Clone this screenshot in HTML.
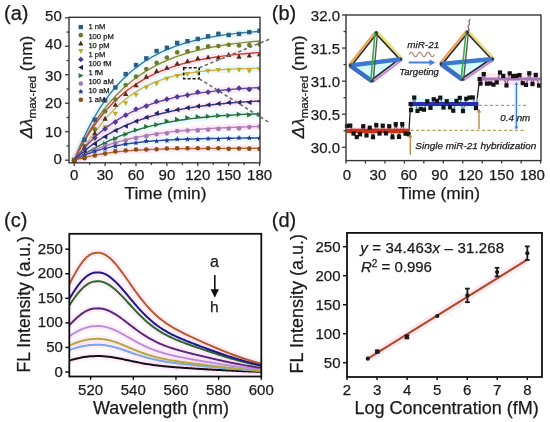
<!DOCTYPE html>
<html><head><meta charset="utf-8"><style>
html,body{margin:0;padding:0;background:#fff;width:550px;height:422px;overflow:hidden}
svg{display:block;filter:blur(0.3px);font-family:"Liberation Sans", sans-serif}
text{stroke:#1a1a1a;stroke-width:0.25px}
</style></head><body>
<svg width="550" height="422" viewBox="0 0 550 422">
<rect width="550" height="422" fill="#ffffff"/>
<defs><clipPath id="clipA"><rect x="69.0" y="17.3" width="191.0" height="145.5"/></clipPath><clipPath id="clipC"><rect x="69.3" y="233.8" width="192.0" height="142.7"/></clipPath></defs>
<text x="4.00" y="19.90" font-size="20" text-anchor="start" fill="#1a1a1a" >(a)</text>
<line x1="65.00" y1="160.20" x2="69.00" y2="160.20" stroke="#3a3a3a" stroke-width="1.3" />
<text x="61.80" y="163.70" font-size="15" text-anchor="end" fill="#1a1a1a" >0</text>
<line x1="66.50" y1="145.96" x2="69.00" y2="145.96" stroke="#3a3a3a" stroke-width="1.3" />
<line x1="65.00" y1="131.72" x2="69.00" y2="131.72" stroke="#3a3a3a" stroke-width="1.3" />
<text x="61.80" y="136.62" font-size="15" text-anchor="end" fill="#1a1a1a" >10</text>
<line x1="66.50" y1="117.48" x2="69.00" y2="117.48" stroke="#3a3a3a" stroke-width="1.3" />
<line x1="65.00" y1="103.24" x2="69.00" y2="103.24" stroke="#3a3a3a" stroke-width="1.3" />
<text x="61.80" y="107.64" font-size="15" text-anchor="end" fill="#1a1a1a" >20</text>
<line x1="66.50" y1="89.00" x2="69.00" y2="89.00" stroke="#3a3a3a" stroke-width="1.3" />
<line x1="65.00" y1="74.76" x2="69.00" y2="74.76" stroke="#3a3a3a" stroke-width="1.3" />
<text x="61.80" y="80.66" font-size="15" text-anchor="end" fill="#1a1a1a" >30</text>
<line x1="66.50" y1="60.52" x2="69.00" y2="60.52" stroke="#3a3a3a" stroke-width="1.3" />
<line x1="65.00" y1="46.28" x2="69.00" y2="46.28" stroke="#3a3a3a" stroke-width="1.3" />
<text x="61.80" y="49.08" font-size="15" text-anchor="end" fill="#1a1a1a" >40</text>
<line x1="66.50" y1="32.04" x2="69.00" y2="32.04" stroke="#3a3a3a" stroke-width="1.3" />
<line x1="65.00" y1="17.80" x2="69.00" y2="17.80" stroke="#3a3a3a" stroke-width="1.3" />
<text x="61.80" y="21.15" font-size="15" text-anchor="end" fill="#1a1a1a" >50</text>
<line x1="74.20" y1="162.80" x2="74.20" y2="166.00" stroke="#3a3a3a" stroke-width="1.3" />
<text x="74.20" y="180.40" font-size="15" text-anchor="middle" fill="#1a1a1a" >0</text>
<line x1="89.65" y1="162.80" x2="89.65" y2="165.00" stroke="#3a3a3a" stroke-width="1.3" />
<line x1="105.10" y1="162.80" x2="105.10" y2="166.00" stroke="#3a3a3a" stroke-width="1.3" />
<text x="105.10" y="180.40" font-size="15" text-anchor="middle" fill="#1a1a1a" >30</text>
<line x1="120.55" y1="162.80" x2="120.55" y2="165.00" stroke="#3a3a3a" stroke-width="1.3" />
<line x1="136.00" y1="162.80" x2="136.00" y2="166.00" stroke="#3a3a3a" stroke-width="1.3" />
<text x="136.00" y="180.40" font-size="15" text-anchor="middle" fill="#1a1a1a" >60</text>
<line x1="151.45" y1="162.80" x2="151.45" y2="165.00" stroke="#3a3a3a" stroke-width="1.3" />
<line x1="166.90" y1="162.80" x2="166.90" y2="166.00" stroke="#3a3a3a" stroke-width="1.3" />
<text x="166.90" y="180.40" font-size="15" text-anchor="middle" fill="#1a1a1a" >90</text>
<line x1="182.35" y1="162.80" x2="182.35" y2="165.00" stroke="#3a3a3a" stroke-width="1.3" />
<line x1="197.80" y1="162.80" x2="197.80" y2="166.00" stroke="#3a3a3a" stroke-width="1.3" />
<text x="197.80" y="180.40" font-size="15" text-anchor="middle" fill="#1a1a1a" >120</text>
<line x1="213.25" y1="162.80" x2="213.25" y2="165.00" stroke="#3a3a3a" stroke-width="1.3" />
<line x1="228.70" y1="162.80" x2="228.70" y2="166.00" stroke="#3a3a3a" stroke-width="1.3" />
<text x="228.70" y="180.40" font-size="15" text-anchor="middle" fill="#1a1a1a" >150</text>
<line x1="244.15" y1="162.80" x2="244.15" y2="165.00" stroke="#3a3a3a" stroke-width="1.3" />
<line x1="259.60" y1="162.80" x2="259.60" y2="166.00" stroke="#3a3a3a" stroke-width="1.3" />
<text x="259.60" y="180.40" font-size="15" text-anchor="middle" fill="#1a1a1a" >180</text>
<text x="165.50" y="199.20" font-size="17.3" text-anchor="middle" fill="#1a1a1a" >Time (min)</text>
<text transform="translate(31.60,138.60) rotate(-90)" font-size="17.3" fill="#1a1a1a"><tspan font-style="italic">Δλ</tspan><tspan font-size="11.6" dy="4.2">max-red</tspan><tspan dy="-4.2"> (nm)</tspan></text>
<g clip-path="url(#clipA)">
<path d="M74.20,160.20 L76.26,155.01 L78.32,150.02 L80.38,145.22 L82.44,140.62 L84.50,136.19 L86.56,131.94 L88.62,127.86 L90.68,123.93 L92.74,120.16 L94.80,116.54 L96.86,113.06 L98.92,109.71 L100.98,106.50 L103.04,103.41 L105.10,100.45 L107.16,97.60 L109.22,94.86 L111.28,92.23 L113.34,89.70 L115.40,87.27 L117.46,84.94 L119.52,82.70 L121.58,80.54 L123.64,78.48 L125.70,76.49 L127.76,74.58 L129.82,72.74 L131.88,70.98 L133.94,69.28 L136.00,67.66 L138.06,66.09 L140.12,64.59 L142.18,63.15 L144.24,61.76 L146.30,60.43 L148.36,59.14 L150.42,57.91 L152.48,56.73 L154.54,55.60 L156.60,54.51 L158.66,53.46 L160.72,52.45 L162.78,51.48 L164.84,50.55 L166.90,49.66 L168.96,48.80 L171.02,47.98 L173.08,47.18 L175.14,46.42 L177.20,45.69 L179.26,44.99 L181.32,44.31 L183.38,43.66 L185.44,43.04 L187.50,42.44 L189.56,41.87 L191.62,41.31 L193.68,40.78 L195.74,40.27 L197.80,39.78 L199.86,39.31 L201.92,38.86 L203.98,38.42 L206.04,38.01 L208.10,37.60 L210.16,37.22 L212.22,36.85 L214.28,36.49 L216.34,36.15 L218.40,35.82 L220.46,35.51 L222.52,35.20 L224.58,34.91 L226.64,34.63 L228.70,34.36 L230.76,34.10 L232.82,33.85 L234.88,33.62 L236.94,33.39 L239.00,33.17 L241.06,32.95 L243.12,32.75 L245.18,32.56 L247.24,32.37 L249.30,32.19 L251.36,32.01 L253.42,31.85 L255.48,31.69 L257.54,31.53 L259.60,31.39" fill="none" stroke="#b8f6ff" stroke-width="7" stroke-linejoin="round" opacity="0.35"/>
<path d="M74.20,160.20 L76.26,155.78 L78.32,151.51 L80.38,147.40 L82.44,143.43 L84.50,139.60 L86.56,135.92 L88.62,132.36 L90.68,128.93 L92.74,125.62 L94.80,122.43 L96.86,119.36 L98.92,116.39 L100.98,113.53 L103.04,110.77 L105.10,108.11 L107.16,105.55 L109.22,103.08 L111.28,100.69 L113.34,98.39 L115.40,96.18 L117.46,94.04 L119.52,91.98 L121.58,89.99 L123.64,88.07 L125.70,86.23 L127.76,84.44 L129.82,82.72 L131.88,81.07 L133.94,79.47 L136.00,77.93 L138.06,76.44 L140.12,75.01 L142.18,73.63 L144.24,72.29 L146.30,71.01 L148.36,69.77 L150.42,68.58 L152.48,67.42 L154.54,66.31 L156.60,65.24 L158.66,64.21 L160.72,63.21 L162.78,62.25 L164.84,61.32 L166.90,60.43 L168.96,59.57 L171.02,58.74 L173.08,57.94 L175.14,57.17 L177.20,56.42 L179.26,55.70 L181.32,55.01 L183.38,54.34 L185.44,53.70 L187.50,53.08 L189.56,52.48 L191.62,51.90 L193.68,51.35 L195.74,50.81 L197.80,50.29 L199.86,49.79 L201.92,49.31 L203.98,48.85 L206.04,48.40 L208.10,47.97 L210.16,47.55 L212.22,47.15 L214.28,46.76 L216.34,46.39 L218.40,46.03 L220.46,45.68 L222.52,45.35 L224.58,45.03 L226.64,44.71 L228.70,44.41 L230.76,44.12 L232.82,43.85 L234.88,43.58 L236.94,43.32 L239.00,43.07 L241.06,42.83 L243.12,42.59 L245.18,42.37 L247.24,42.15 L249.30,41.94 L251.36,41.74 L253.42,41.55 L255.48,41.36 L257.54,41.18 L259.60,41.01" fill="none" stroke="#d8f0c0" stroke-width="7" stroke-linejoin="round" opacity="0.35"/>
<path d="M74.20,160.20 L76.26,156.01 L78.32,151.98 L80.38,148.10 L82.44,144.36 L84.50,140.77 L86.56,137.31 L88.62,133.98 L90.68,130.78 L92.74,127.70 L94.80,124.74 L96.86,121.88 L98.92,119.14 L100.98,116.50 L103.04,113.95 L105.10,111.51 L107.16,109.15 L109.22,106.89 L111.28,104.71 L113.34,102.61 L115.40,100.60 L117.46,98.65 L119.52,96.78 L121.58,94.99 L123.64,93.26 L125.70,91.59 L127.76,89.99 L129.82,88.45 L131.88,86.96 L133.94,85.54 L136.00,84.16 L138.06,82.84 L140.12,81.57 L142.18,80.34 L144.24,79.17 L146.30,78.03 L148.36,76.94 L150.42,75.89 L152.48,74.88 L154.54,73.91 L156.60,72.98 L158.66,72.08 L160.72,71.21 L162.78,70.38 L164.84,69.58 L166.90,68.80 L168.96,68.06 L171.02,67.35 L173.08,66.66 L175.14,66.00 L177.20,65.36 L179.26,64.75 L181.32,64.16 L183.38,63.59 L185.44,63.05 L187.50,62.52 L189.56,62.02 L191.62,61.53 L193.68,61.06 L195.74,60.61 L197.80,60.18 L199.86,59.76 L201.92,59.36 L203.98,58.97 L206.04,58.60 L208.10,58.25 L210.16,57.90 L212.22,57.57 L214.28,57.25 L216.34,56.95 L218.40,56.65 L220.46,56.37 L222.52,56.09 L224.58,55.83 L226.64,55.58 L228.70,55.33 L230.76,55.10 L232.82,54.87 L234.88,54.66 L236.94,54.45 L239.00,54.25 L241.06,54.06 L243.12,53.87 L245.18,53.69 L247.24,53.52 L249.30,53.35 L251.36,53.19 L253.42,53.04 L255.48,52.89 L257.54,52.75 L259.60,52.61" fill="none" stroke="#ffc0e8" stroke-width="7" stroke-linejoin="round" opacity="0.35"/>
<path d="M74.20,160.20 L76.26,158.13 L78.32,155.51 L80.38,152.69 L82.44,149.78 L84.50,146.82 L86.56,143.85 L88.62,140.90 L90.68,137.99 L92.74,135.12 L94.80,132.30 L96.86,129.55 L98.92,126.87 L100.98,124.26 L103.04,121.73 L105.10,119.28 L107.16,116.91 L109.22,114.62 L111.28,112.42 L113.34,110.29 L115.40,108.24 L117.46,106.27 L119.52,104.38 L121.58,102.57 L123.64,100.83 L125.70,99.16 L127.76,97.57 L129.82,96.05 L131.88,94.59 L133.94,93.19 L136.00,91.86 L138.06,90.60 L140.12,89.39 L142.18,88.23 L144.24,87.13 L146.30,86.09 L148.36,85.09 L150.42,84.15 L152.48,83.25 L154.54,82.39 L156.60,81.58 L158.66,80.81 L160.72,80.08 L162.78,79.38 L164.84,78.72 L166.90,78.10 L168.96,77.50 L171.02,76.94 L173.08,76.41 L175.14,75.91 L177.20,75.43 L179.26,74.98 L181.32,74.56 L183.38,74.16 L185.44,73.77 L187.50,73.42 L189.56,73.08 L191.62,72.75 L193.68,72.45 L195.74,72.17 L197.80,71.90 L199.86,71.64 L201.92,71.40 L203.98,71.17 L206.04,70.96 L208.10,70.76 L210.16,70.57 L212.22,70.39 L214.28,70.22 L216.34,70.07 L218.40,69.92 L220.46,69.78 L222.52,69.64 L224.58,69.52 L226.64,69.40 L228.70,69.29 L230.76,69.19 L232.82,69.09 L234.88,69.00 L236.94,68.92 L239.00,68.84 L241.06,68.76 L243.12,68.69 L245.18,68.62 L247.24,68.56 L249.30,68.50 L251.36,68.45 L253.42,68.39 L255.48,68.35 L257.54,68.30 L259.60,68.26" fill="none" stroke="#b8f6ff" stroke-width="7" stroke-linejoin="round" opacity="0.35"/>
<path d="M74.20,160.20 L76.26,157.50 L78.32,154.91 L80.38,152.40 L82.44,149.98 L84.50,147.65 L86.56,145.41 L88.62,143.24 L90.68,141.15 L92.74,139.13 L94.80,137.19 L96.86,135.32 L98.92,133.51 L100.98,131.77 L103.04,130.09 L105.10,128.47 L107.16,126.91 L109.22,125.40 L111.28,123.95 L113.34,122.55 L115.40,121.20 L117.46,119.90 L119.52,118.64 L121.58,117.43 L123.64,116.26 L125.70,115.13 L127.76,114.05 L129.82,113.00 L131.88,111.99 L133.94,111.02 L136.00,110.08 L138.06,109.17 L140.12,108.30 L142.18,107.46 L144.24,106.65 L146.30,105.87 L148.36,105.11 L150.42,104.38 L152.48,103.68 L154.54,103.00 L156.60,102.35 L158.66,101.72 L160.72,101.12 L162.78,100.53 L164.84,99.97 L166.90,99.42 L168.96,98.90 L171.02,98.39 L173.08,97.90 L175.14,97.43 L177.20,96.98 L179.26,96.54 L181.32,96.12 L183.38,95.71 L185.44,95.32 L187.50,94.94 L189.56,94.58 L191.62,94.23 L193.68,93.89 L195.74,93.56 L197.80,93.24 L199.86,92.94 L201.92,92.65 L203.98,92.36 L206.04,92.09 L208.10,91.83 L210.16,91.57 L212.22,91.33 L214.28,91.09 L216.34,90.87 L218.40,90.65 L220.46,90.44 L222.52,90.23 L224.58,90.04 L226.64,89.85 L228.70,89.66 L230.76,89.49 L232.82,89.32 L234.88,89.15 L236.94,89.00 L239.00,88.84 L241.06,88.70 L243.12,88.55 L245.18,88.42 L247.24,88.29 L249.30,88.16 L251.36,88.04 L253.42,87.92 L255.48,87.80 L257.54,87.69 L259.60,87.59" fill="none" stroke="#ffc0e8" stroke-width="7" stroke-linejoin="round" opacity="0.35"/>
<path d="M74.20,160.20 L76.26,158.21 L78.32,156.29 L80.38,154.42 L82.44,152.62 L84.50,150.87 L86.56,149.17 L88.62,147.54 L90.68,145.95 L92.74,144.41 L94.80,142.92 L96.86,141.48 L98.92,140.09 L100.98,138.74 L103.04,137.43 L105.10,136.16 L107.16,134.94 L109.22,133.75 L111.28,132.60 L113.34,131.49 L115.40,130.41 L117.46,129.37 L119.52,128.36 L121.58,127.38 L123.64,126.43 L125.70,125.52 L127.76,124.63 L129.82,123.77 L131.88,122.94 L133.94,122.13 L136.00,121.35 L138.06,120.59 L140.12,119.86 L142.18,119.15 L144.24,118.47 L146.30,117.80 L148.36,117.16 L150.42,116.54 L152.48,115.93 L154.54,115.35 L156.60,114.79 L158.66,114.24 L160.72,113.71 L162.78,113.20 L164.84,112.70 L166.90,112.22 L168.96,111.75 L171.02,111.30 L173.08,110.86 L175.14,110.44 L177.20,110.03 L179.26,109.64 L181.32,109.25 L183.38,108.88 L185.44,108.52 L187.50,108.17 L189.56,107.83 L191.62,107.51 L193.68,107.19 L195.74,106.89 L197.80,106.59 L199.86,106.30 L201.92,106.02 L203.98,105.75 L206.04,105.49 L208.10,105.24 L210.16,105.00 L212.22,104.76 L214.28,104.53 L216.34,104.31 L218.40,104.09 L220.46,103.89 L222.52,103.69 L224.58,103.49 L226.64,103.30 L228.70,103.12 L230.76,102.94 L232.82,102.77 L234.88,102.60 L236.94,102.44 L239.00,102.29 L241.06,102.14 L243.12,101.99 L245.18,101.85 L247.24,101.71 L249.30,101.58 L251.36,101.45 L253.42,101.33 L255.48,101.21 L257.54,101.09 L259.60,100.98" fill="none" stroke="#ffc0e8" stroke-width="7" stroke-linejoin="round" opacity="0.35"/>
<path d="M74.20,160.20 L76.26,159.10 L78.32,157.88 L80.38,156.63 L82.44,155.37 L84.50,154.11 L86.56,152.87 L88.62,151.64 L90.68,150.43 L92.74,149.24 L94.80,148.08 L96.86,146.94 L98.92,145.83 L100.98,144.75 L103.04,143.69 L105.10,142.66 L107.16,141.65 L109.22,140.67 L111.28,139.72 L113.34,138.79 L115.40,137.89 L117.46,137.02 L119.52,136.17 L121.58,135.35 L123.64,134.55 L125.70,133.77 L127.76,133.02 L129.82,132.29 L131.88,131.59 L133.94,130.90 L136.00,130.24 L138.06,129.60 L140.12,128.97 L142.18,128.37 L144.24,127.79 L146.30,127.22 L148.36,126.68 L150.42,126.15 L152.48,125.64 L154.54,125.15 L156.60,124.67 L158.66,124.21 L160.72,123.76 L162.78,123.33 L164.84,122.92 L166.90,122.51 L168.96,122.13 L171.02,121.75 L173.08,121.39 L175.14,121.04 L177.20,120.70 L179.26,120.37 L181.32,120.06 L183.38,119.76 L185.44,119.46 L187.50,119.18 L189.56,118.91 L191.62,118.64 L193.68,118.39 L195.74,118.14 L197.80,117.91 L199.86,117.68 L201.92,117.46 L203.98,117.25 L206.04,117.04 L208.10,116.85 L210.16,116.66 L212.22,116.47 L214.28,116.30 L216.34,116.13 L218.40,115.96 L220.46,115.81 L222.52,115.65 L224.58,115.51 L226.64,115.37 L228.70,115.23 L230.76,115.10 L232.82,114.97 L234.88,114.85 L236.94,114.73 L239.00,114.62 L241.06,114.51 L243.12,114.41 L245.18,114.31 L247.24,114.21 L249.30,114.12 L251.36,114.03 L253.42,113.94 L255.48,113.86 L257.54,113.78 L259.60,113.70" fill="none" stroke="#b8f6ff" stroke-width="7" stroke-linejoin="round" opacity="0.35"/>
<path d="M74.20,160.20 L76.26,159.00 L78.32,157.85 L80.38,156.73 L82.44,155.65 L84.50,154.61 L86.56,153.60 L88.62,152.63 L90.68,151.69 L92.74,150.78 L94.80,149.90 L96.86,149.05 L98.92,148.23 L100.98,147.44 L103.04,146.68 L105.10,145.94 L107.16,145.22 L109.22,144.54 L111.28,143.87 L113.34,143.23 L115.40,142.60 L117.46,142.00 L119.52,141.42 L121.58,140.86 L123.64,140.32 L125.70,139.80 L127.76,139.29 L129.82,138.80 L131.88,138.33 L133.94,137.88 L136.00,137.44 L138.06,137.01 L140.12,136.60 L142.18,136.20 L144.24,135.82 L146.30,135.45 L148.36,135.09 L150.42,134.74 L152.48,134.41 L154.54,134.09 L156.60,133.78 L158.66,133.47 L160.72,133.18 L162.78,132.90 L164.84,132.63 L166.90,132.37 L168.96,132.11 L171.02,131.87 L173.08,131.63 L175.14,131.40 L177.20,131.18 L179.26,130.97 L181.32,130.76 L183.38,130.56 L185.44,130.37 L187.50,130.19 L189.56,130.01 L191.62,129.83 L193.68,129.66 L195.74,129.50 L197.80,129.35 L199.86,129.19 L201.92,129.05 L203.98,128.91 L206.04,128.77 L208.10,128.64 L210.16,128.51 L212.22,128.39 L214.28,128.27 L216.34,128.16 L218.40,128.04 L220.46,127.94 L222.52,127.83 L224.58,127.73 L226.64,127.64 L228.70,127.54 L230.76,127.45 L232.82,127.37 L234.88,127.28 L236.94,127.20 L239.00,127.12 L241.06,127.05 L243.12,126.97 L245.18,126.90 L247.24,126.83 L249.30,126.77 L251.36,126.70 L253.42,126.64 L255.48,126.58 L257.54,126.53 L259.60,126.47" fill="none" stroke="#ffc0e8" stroke-width="7" stroke-linejoin="round" opacity="0.35"/>
<path d="M74.20,160.20 L76.26,159.10 L78.32,158.06 L80.38,157.07 L82.44,156.12 L84.50,155.22 L86.56,154.37 L88.62,153.56 L90.68,152.78 L92.74,152.05 L94.80,151.35 L96.86,150.68 L98.92,150.05 L100.98,149.45 L103.04,148.87 L105.10,148.33 L107.16,147.81 L109.22,147.32 L111.28,146.85 L113.34,146.40 L115.40,145.98 L117.46,145.57 L119.52,145.19 L121.58,144.82 L123.64,144.48 L125.70,144.15 L127.76,143.83 L129.82,143.53 L131.88,143.25 L133.94,142.98 L136.00,142.72 L138.06,142.48 L140.12,142.24 L142.18,142.02 L144.24,141.81 L146.30,141.61 L148.36,141.42 L150.42,141.24 L152.48,141.07 L154.54,140.90 L156.60,140.75 L158.66,140.60 L160.72,140.46 L162.78,140.32 L164.84,140.19 L166.90,140.07 L168.96,139.96 L171.02,139.85 L173.08,139.74 L175.14,139.64 L177.20,139.55 L179.26,139.46 L181.32,139.37 L183.38,139.29 L185.44,139.21 L187.50,139.14 L189.56,139.07 L191.62,139.00 L193.68,138.94 L195.74,138.88 L197.80,138.82 L199.86,138.77 L201.92,138.71 L203.98,138.66 L206.04,138.62 L208.10,138.57 L210.16,138.53 L212.22,138.49 L214.28,138.45 L216.34,138.42 L218.40,138.38 L220.46,138.35 L222.52,138.32 L224.58,138.29 L226.64,138.26 L228.70,138.23 L230.76,138.20 L232.82,138.18 L234.88,138.16 L236.94,138.13 L239.00,138.11 L241.06,138.09 L243.12,138.07 L245.18,138.06 L247.24,138.04 L249.30,138.02 L251.36,138.01 L253.42,137.99 L255.48,137.98 L257.54,137.96 L259.60,137.95" fill="none" stroke="#b8f6ff" stroke-width="7" stroke-linejoin="round" opacity="0.35"/>
<path d="M74.20,160.20 L76.26,159.70 L78.32,159.15 L80.38,158.60 L82.44,158.06 L84.50,157.53 L86.56,157.03 L88.62,156.54 L90.68,156.08 L92.74,155.63 L94.80,155.21 L96.86,154.80 L98.92,154.42 L100.98,154.05 L103.04,153.71 L105.10,153.38 L107.16,153.07 L109.22,152.78 L111.28,152.50 L113.34,152.24 L115.40,151.99 L117.46,151.76 L119.52,151.54 L121.58,151.34 L123.64,151.14 L125.70,150.96 L127.76,150.79 L129.82,150.63 L131.88,150.47 L133.94,150.33 L136.00,150.20 L138.06,150.07 L140.12,149.95 L142.18,149.84 L144.24,149.74 L146.30,149.64 L148.36,149.55 L150.42,149.46 L152.48,149.38 L154.54,149.31 L156.60,149.24 L158.66,149.17 L160.72,149.11 L162.78,149.05 L164.84,149.00 L166.90,148.95 L168.96,148.90 L171.02,148.86 L173.08,148.81 L175.14,148.78 L177.20,148.74 L179.26,148.71 L181.32,148.67 L183.38,148.64 L185.44,148.62 L187.50,148.59 L189.56,148.57 L191.62,148.54 L193.68,148.52 L195.74,148.50 L197.80,148.49 L199.86,148.47 L201.92,148.45 L203.98,148.44 L206.04,148.42 L208.10,148.41 L210.16,148.40 L212.22,148.39 L214.28,148.38 L216.34,148.37 L218.40,148.36 L220.46,148.35 L222.52,148.34 L224.58,148.34 L226.64,148.33 L228.70,148.32 L230.76,148.32 L232.82,148.31 L234.88,148.31 L236.94,148.30 L239.00,148.30 L241.06,148.29 L243.12,148.29 L245.18,148.29 L247.24,148.28 L249.30,148.28 L251.36,148.28 L253.42,148.27 L255.48,148.27 L257.54,148.27 L259.60,148.27" fill="none" stroke="#ffc0e8" stroke-width="7" stroke-linejoin="round" opacity="0.35"/>
<path d="M74.20,160.20 L76.26,155.01 L78.32,150.02 L80.38,145.22 L82.44,140.62 L84.50,136.19 L86.56,131.94 L88.62,127.86 L90.68,123.93 L92.74,120.16 L94.80,116.54 L96.86,113.06 L98.92,109.71 L100.98,106.50 L103.04,103.41 L105.10,100.45 L107.16,97.60 L109.22,94.86 L111.28,92.23 L113.34,89.70 L115.40,87.27 L117.46,84.94 L119.52,82.70 L121.58,80.54 L123.64,78.48 L125.70,76.49 L127.76,74.58 L129.82,72.74 L131.88,70.98 L133.94,69.28 L136.00,67.66 L138.06,66.09 L140.12,64.59 L142.18,63.15 L144.24,61.76 L146.30,60.43 L148.36,59.14 L150.42,57.91 L152.48,56.73 L154.54,55.60 L156.60,54.51 L158.66,53.46 L160.72,52.45 L162.78,51.48 L164.84,50.55 L166.90,49.66 L168.96,48.80 L171.02,47.98 L173.08,47.18 L175.14,46.42 L177.20,45.69 L179.26,44.99 L181.32,44.31 L183.38,43.66 L185.44,43.04 L187.50,42.44 L189.56,41.87 L191.62,41.31 L193.68,40.78 L195.74,40.27 L197.80,39.78 L199.86,39.31 L201.92,38.86 L203.98,38.42 L206.04,38.01 L208.10,37.60 L210.16,37.22 L212.22,36.85 L214.28,36.49 L216.34,36.15 L218.40,35.82 L220.46,35.51 L222.52,35.20 L224.58,34.91 L226.64,34.63 L228.70,34.36 L230.76,34.10 L232.82,33.85 L234.88,33.62 L236.94,33.39 L239.00,33.17 L241.06,32.95 L243.12,32.75 L245.18,32.56 L247.24,32.37 L249.30,32.19 L251.36,32.01 L253.42,31.85 L255.48,31.69 L257.54,31.53 L259.60,31.39" fill="none" stroke="#3f7aa3" stroke-width="1.4" stroke-linejoin="round" />
<path d="M74.20,160.20 L76.26,155.78 L78.32,151.51 L80.38,147.40 L82.44,143.43 L84.50,139.60 L86.56,135.92 L88.62,132.36 L90.68,128.93 L92.74,125.62 L94.80,122.43 L96.86,119.36 L98.92,116.39 L100.98,113.53 L103.04,110.77 L105.10,108.11 L107.16,105.55 L109.22,103.08 L111.28,100.69 L113.34,98.39 L115.40,96.18 L117.46,94.04 L119.52,91.98 L121.58,89.99 L123.64,88.07 L125.70,86.23 L127.76,84.44 L129.82,82.72 L131.88,81.07 L133.94,79.47 L136.00,77.93 L138.06,76.44 L140.12,75.01 L142.18,73.63 L144.24,72.29 L146.30,71.01 L148.36,69.77 L150.42,68.58 L152.48,67.42 L154.54,66.31 L156.60,65.24 L158.66,64.21 L160.72,63.21 L162.78,62.25 L164.84,61.32 L166.90,60.43 L168.96,59.57 L171.02,58.74 L173.08,57.94 L175.14,57.17 L177.20,56.42 L179.26,55.70 L181.32,55.01 L183.38,54.34 L185.44,53.70 L187.50,53.08 L189.56,52.48 L191.62,51.90 L193.68,51.35 L195.74,50.81 L197.80,50.29 L199.86,49.79 L201.92,49.31 L203.98,48.85 L206.04,48.40 L208.10,47.97 L210.16,47.55 L212.22,47.15 L214.28,46.76 L216.34,46.39 L218.40,46.03 L220.46,45.68 L222.52,45.35 L224.58,45.03 L226.64,44.71 L228.70,44.41 L230.76,44.12 L232.82,43.85 L234.88,43.58 L236.94,43.32 L239.00,43.07 L241.06,42.83 L243.12,42.59 L245.18,42.37 L247.24,42.15 L249.30,41.94 L251.36,41.74 L253.42,41.55 L255.48,41.36 L257.54,41.18 L259.60,41.01" fill="none" stroke="#8d8450" stroke-width="1.4" stroke-linejoin="round" />
<path d="M74.20,160.20 L76.26,156.01 L78.32,151.98 L80.38,148.10 L82.44,144.36 L84.50,140.77 L86.56,137.31 L88.62,133.98 L90.68,130.78 L92.74,127.70 L94.80,124.74 L96.86,121.88 L98.92,119.14 L100.98,116.50 L103.04,113.95 L105.10,111.51 L107.16,109.15 L109.22,106.89 L111.28,104.71 L113.34,102.61 L115.40,100.60 L117.46,98.65 L119.52,96.78 L121.58,94.99 L123.64,93.26 L125.70,91.59 L127.76,89.99 L129.82,88.45 L131.88,86.96 L133.94,85.54 L136.00,84.16 L138.06,82.84 L140.12,81.57 L142.18,80.34 L144.24,79.17 L146.30,78.03 L148.36,76.94 L150.42,75.89 L152.48,74.88 L154.54,73.91 L156.60,72.98 L158.66,72.08 L160.72,71.21 L162.78,70.38 L164.84,69.58 L166.90,68.80 L168.96,68.06 L171.02,67.35 L173.08,66.66 L175.14,66.00 L177.20,65.36 L179.26,64.75 L181.32,64.16 L183.38,63.59 L185.44,63.05 L187.50,62.52 L189.56,62.02 L191.62,61.53 L193.68,61.06 L195.74,60.61 L197.80,60.18 L199.86,59.76 L201.92,59.36 L203.98,58.97 L206.04,58.60 L208.10,58.25 L210.16,57.90 L212.22,57.57 L214.28,57.25 L216.34,56.95 L218.40,56.65 L220.46,56.37 L222.52,56.09 L224.58,55.83 L226.64,55.58 L228.70,55.33 L230.76,55.10 L232.82,54.87 L234.88,54.66 L236.94,54.45 L239.00,54.25 L241.06,54.06 L243.12,53.87 L245.18,53.69 L247.24,53.52 L249.30,53.35 L251.36,53.19 L253.42,53.04 L255.48,52.89 L257.54,52.75 L259.60,52.61" fill="none" stroke="#c8402c" stroke-width="1.4" stroke-linejoin="round" />
<path d="M74.20,160.20 L76.26,158.13 L78.32,155.51 L80.38,152.69 L82.44,149.78 L84.50,146.82 L86.56,143.85 L88.62,140.90 L90.68,137.99 L92.74,135.12 L94.80,132.30 L96.86,129.55 L98.92,126.87 L100.98,124.26 L103.04,121.73 L105.10,119.28 L107.16,116.91 L109.22,114.62 L111.28,112.42 L113.34,110.29 L115.40,108.24 L117.46,106.27 L119.52,104.38 L121.58,102.57 L123.64,100.83 L125.70,99.16 L127.76,97.57 L129.82,96.05 L131.88,94.59 L133.94,93.19 L136.00,91.86 L138.06,90.60 L140.12,89.39 L142.18,88.23 L144.24,87.13 L146.30,86.09 L148.36,85.09 L150.42,84.15 L152.48,83.25 L154.54,82.39 L156.60,81.58 L158.66,80.81 L160.72,80.08 L162.78,79.38 L164.84,78.72 L166.90,78.10 L168.96,77.50 L171.02,76.94 L173.08,76.41 L175.14,75.91 L177.20,75.43 L179.26,74.98 L181.32,74.56 L183.38,74.16 L185.44,73.77 L187.50,73.42 L189.56,73.08 L191.62,72.75 L193.68,72.45 L195.74,72.17 L197.80,71.90 L199.86,71.64 L201.92,71.40 L203.98,71.17 L206.04,70.96 L208.10,70.76 L210.16,70.57 L212.22,70.39 L214.28,70.22 L216.34,70.07 L218.40,69.92 L220.46,69.78 L222.52,69.64 L224.58,69.52 L226.64,69.40 L228.70,69.29 L230.76,69.19 L232.82,69.09 L234.88,69.00 L236.94,68.92 L239.00,68.84 L241.06,68.76 L243.12,68.69 L245.18,68.62 L247.24,68.56 L249.30,68.50 L251.36,68.45 L253.42,68.39 L255.48,68.35 L257.54,68.30 L259.60,68.26" fill="none" stroke="#e0ac48" stroke-width="1.4" stroke-linejoin="round" />
<path d="M74.20,160.20 L76.26,157.50 L78.32,154.91 L80.38,152.40 L82.44,149.98 L84.50,147.65 L86.56,145.41 L88.62,143.24 L90.68,141.15 L92.74,139.13 L94.80,137.19 L96.86,135.32 L98.92,133.51 L100.98,131.77 L103.04,130.09 L105.10,128.47 L107.16,126.91 L109.22,125.40 L111.28,123.95 L113.34,122.55 L115.40,121.20 L117.46,119.90 L119.52,118.64 L121.58,117.43 L123.64,116.26 L125.70,115.13 L127.76,114.05 L129.82,113.00 L131.88,111.99 L133.94,111.02 L136.00,110.08 L138.06,109.17 L140.12,108.30 L142.18,107.46 L144.24,106.65 L146.30,105.87 L148.36,105.11 L150.42,104.38 L152.48,103.68 L154.54,103.00 L156.60,102.35 L158.66,101.72 L160.72,101.12 L162.78,100.53 L164.84,99.97 L166.90,99.42 L168.96,98.90 L171.02,98.39 L173.08,97.90 L175.14,97.43 L177.20,96.98 L179.26,96.54 L181.32,96.12 L183.38,95.71 L185.44,95.32 L187.50,94.94 L189.56,94.58 L191.62,94.23 L193.68,93.89 L195.74,93.56 L197.80,93.24 L199.86,92.94 L201.92,92.65 L203.98,92.36 L206.04,92.09 L208.10,91.83 L210.16,91.57 L212.22,91.33 L214.28,91.09 L216.34,90.87 L218.40,90.65 L220.46,90.44 L222.52,90.23 L224.58,90.04 L226.64,89.85 L228.70,89.66 L230.76,89.49 L232.82,89.32 L234.88,89.15 L236.94,89.00 L239.00,88.84 L241.06,88.70 L243.12,88.55 L245.18,88.42 L247.24,88.29 L249.30,88.16 L251.36,88.04 L253.42,87.92 L255.48,87.80 L257.54,87.69 L259.60,87.59" fill="none" stroke="#5a4aa0" stroke-width="1.4" stroke-linejoin="round" />
<path d="M74.20,160.20 L76.26,158.21 L78.32,156.29 L80.38,154.42 L82.44,152.62 L84.50,150.87 L86.56,149.17 L88.62,147.54 L90.68,145.95 L92.74,144.41 L94.80,142.92 L96.86,141.48 L98.92,140.09 L100.98,138.74 L103.04,137.43 L105.10,136.16 L107.16,134.94 L109.22,133.75 L111.28,132.60 L113.34,131.49 L115.40,130.41 L117.46,129.37 L119.52,128.36 L121.58,127.38 L123.64,126.43 L125.70,125.52 L127.76,124.63 L129.82,123.77 L131.88,122.94 L133.94,122.13 L136.00,121.35 L138.06,120.59 L140.12,119.86 L142.18,119.15 L144.24,118.47 L146.30,117.80 L148.36,117.16 L150.42,116.54 L152.48,115.93 L154.54,115.35 L156.60,114.79 L158.66,114.24 L160.72,113.71 L162.78,113.20 L164.84,112.70 L166.90,112.22 L168.96,111.75 L171.02,111.30 L173.08,110.86 L175.14,110.44 L177.20,110.03 L179.26,109.64 L181.32,109.25 L183.38,108.88 L185.44,108.52 L187.50,108.17 L189.56,107.83 L191.62,107.51 L193.68,107.19 L195.74,106.89 L197.80,106.59 L199.86,106.30 L201.92,106.02 L203.98,105.75 L206.04,105.49 L208.10,105.24 L210.16,105.00 L212.22,104.76 L214.28,104.53 L216.34,104.31 L218.40,104.09 L220.46,103.89 L222.52,103.69 L224.58,103.49 L226.64,103.30 L228.70,103.12 L230.76,102.94 L232.82,102.77 L234.88,102.60 L236.94,102.44 L239.00,102.29 L241.06,102.14 L243.12,101.99 L245.18,101.85 L247.24,101.71 L249.30,101.58 L251.36,101.45 L253.42,101.33 L255.48,101.21 L257.54,101.09 L259.60,100.98" fill="none" stroke="#2a3a80" stroke-width="1.4" stroke-linejoin="round" />
<path d="M74.20,160.20 L76.26,159.10 L78.32,157.88 L80.38,156.63 L82.44,155.37 L84.50,154.11 L86.56,152.87 L88.62,151.64 L90.68,150.43 L92.74,149.24 L94.80,148.08 L96.86,146.94 L98.92,145.83 L100.98,144.75 L103.04,143.69 L105.10,142.66 L107.16,141.65 L109.22,140.67 L111.28,139.72 L113.34,138.79 L115.40,137.89 L117.46,137.02 L119.52,136.17 L121.58,135.35 L123.64,134.55 L125.70,133.77 L127.76,133.02 L129.82,132.29 L131.88,131.59 L133.94,130.90 L136.00,130.24 L138.06,129.60 L140.12,128.97 L142.18,128.37 L144.24,127.79 L146.30,127.22 L148.36,126.68 L150.42,126.15 L152.48,125.64 L154.54,125.15 L156.60,124.67 L158.66,124.21 L160.72,123.76 L162.78,123.33 L164.84,122.92 L166.90,122.51 L168.96,122.13 L171.02,121.75 L173.08,121.39 L175.14,121.04 L177.20,120.70 L179.26,120.37 L181.32,120.06 L183.38,119.76 L185.44,119.46 L187.50,119.18 L189.56,118.91 L191.62,118.64 L193.68,118.39 L195.74,118.14 L197.80,117.91 L199.86,117.68 L201.92,117.46 L203.98,117.25 L206.04,117.04 L208.10,116.85 L210.16,116.66 L212.22,116.47 L214.28,116.30 L216.34,116.13 L218.40,115.96 L220.46,115.81 L222.52,115.65 L224.58,115.51 L226.64,115.37 L228.70,115.23 L230.76,115.10 L232.82,114.97 L234.88,114.85 L236.94,114.73 L239.00,114.62 L241.06,114.51 L243.12,114.41 L245.18,114.31 L247.24,114.21 L249.30,114.12 L251.36,114.03 L253.42,113.94 L255.48,113.86 L257.54,113.78 L259.60,113.70" fill="none" stroke="#2d6a3a" stroke-width="1.4" stroke-linejoin="round" />
<path d="M74.20,160.20 L76.26,159.00 L78.32,157.85 L80.38,156.73 L82.44,155.65 L84.50,154.61 L86.56,153.60 L88.62,152.63 L90.68,151.69 L92.74,150.78 L94.80,149.90 L96.86,149.05 L98.92,148.23 L100.98,147.44 L103.04,146.68 L105.10,145.94 L107.16,145.22 L109.22,144.54 L111.28,143.87 L113.34,143.23 L115.40,142.60 L117.46,142.00 L119.52,141.42 L121.58,140.86 L123.64,140.32 L125.70,139.80 L127.76,139.29 L129.82,138.80 L131.88,138.33 L133.94,137.88 L136.00,137.44 L138.06,137.01 L140.12,136.60 L142.18,136.20 L144.24,135.82 L146.30,135.45 L148.36,135.09 L150.42,134.74 L152.48,134.41 L154.54,134.09 L156.60,133.78 L158.66,133.47 L160.72,133.18 L162.78,132.90 L164.84,132.63 L166.90,132.37 L168.96,132.11 L171.02,131.87 L173.08,131.63 L175.14,131.40 L177.20,131.18 L179.26,130.97 L181.32,130.76 L183.38,130.56 L185.44,130.37 L187.50,130.19 L189.56,130.01 L191.62,129.83 L193.68,129.66 L195.74,129.50 L197.80,129.35 L199.86,129.19 L201.92,129.05 L203.98,128.91 L206.04,128.77 L208.10,128.64 L210.16,128.51 L212.22,128.39 L214.28,128.27 L216.34,128.16 L218.40,128.04 L220.46,127.94 L222.52,127.83 L224.58,127.73 L226.64,127.64 L228.70,127.54 L230.76,127.45 L232.82,127.37 L234.88,127.28 L236.94,127.20 L239.00,127.12 L241.06,127.05 L243.12,126.97 L245.18,126.90 L247.24,126.83 L249.30,126.77 L251.36,126.70 L253.42,126.64 L255.48,126.58 L257.54,126.53 L259.60,126.47" fill="none" stroke="#c078b8" stroke-width="1.4" stroke-linejoin="round" />
<path d="M74.20,160.20 L76.26,159.10 L78.32,158.06 L80.38,157.07 L82.44,156.12 L84.50,155.22 L86.56,154.37 L88.62,153.56 L90.68,152.78 L92.74,152.05 L94.80,151.35 L96.86,150.68 L98.92,150.05 L100.98,149.45 L103.04,148.87 L105.10,148.33 L107.16,147.81 L109.22,147.32 L111.28,146.85 L113.34,146.40 L115.40,145.98 L117.46,145.57 L119.52,145.19 L121.58,144.82 L123.64,144.48 L125.70,144.15 L127.76,143.83 L129.82,143.53 L131.88,143.25 L133.94,142.98 L136.00,142.72 L138.06,142.48 L140.12,142.24 L142.18,142.02 L144.24,141.81 L146.30,141.61 L148.36,141.42 L150.42,141.24 L152.48,141.07 L154.54,140.90 L156.60,140.75 L158.66,140.60 L160.72,140.46 L162.78,140.32 L164.84,140.19 L166.90,140.07 L168.96,139.96 L171.02,139.85 L173.08,139.74 L175.14,139.64 L177.20,139.55 L179.26,139.46 L181.32,139.37 L183.38,139.29 L185.44,139.21 L187.50,139.14 L189.56,139.07 L191.62,139.00 L193.68,138.94 L195.74,138.88 L197.80,138.82 L199.86,138.77 L201.92,138.71 L203.98,138.66 L206.04,138.62 L208.10,138.57 L210.16,138.53 L212.22,138.49 L214.28,138.45 L216.34,138.42 L218.40,138.38 L220.46,138.35 L222.52,138.32 L224.58,138.29 L226.64,138.26 L228.70,138.23 L230.76,138.20 L232.82,138.18 L234.88,138.16 L236.94,138.13 L239.00,138.11 L241.06,138.09 L243.12,138.07 L245.18,138.06 L247.24,138.04 L249.30,138.02 L251.36,138.01 L253.42,137.99 L255.48,137.98 L257.54,137.96 L259.60,137.95" fill="none" stroke="#3a48a8" stroke-width="1.4" stroke-linejoin="round" />
<path d="M74.20,160.20 L76.26,159.70 L78.32,159.15 L80.38,158.60 L82.44,158.06 L84.50,157.53 L86.56,157.03 L88.62,156.54 L90.68,156.08 L92.74,155.63 L94.80,155.21 L96.86,154.80 L98.92,154.42 L100.98,154.05 L103.04,153.71 L105.10,153.38 L107.16,153.07 L109.22,152.78 L111.28,152.50 L113.34,152.24 L115.40,151.99 L117.46,151.76 L119.52,151.54 L121.58,151.34 L123.64,151.14 L125.70,150.96 L127.76,150.79 L129.82,150.63 L131.88,150.47 L133.94,150.33 L136.00,150.20 L138.06,150.07 L140.12,149.95 L142.18,149.84 L144.24,149.74 L146.30,149.64 L148.36,149.55 L150.42,149.46 L152.48,149.38 L154.54,149.31 L156.60,149.24 L158.66,149.17 L160.72,149.11 L162.78,149.05 L164.84,149.00 L166.90,148.95 L168.96,148.90 L171.02,148.86 L173.08,148.81 L175.14,148.78 L177.20,148.74 L179.26,148.71 L181.32,148.67 L183.38,148.64 L185.44,148.62 L187.50,148.59 L189.56,148.57 L191.62,148.54 L193.68,148.52 L195.74,148.50 L197.80,148.49 L199.86,148.47 L201.92,148.45 L203.98,148.44 L206.04,148.42 L208.10,148.41 L210.16,148.40 L212.22,148.39 L214.28,148.38 L216.34,148.37 L218.40,148.36 L220.46,148.35 L222.52,148.34 L224.58,148.34 L226.64,148.33 L228.70,148.32 L230.76,148.32 L232.82,148.31 L234.88,148.31 L236.94,148.30 L239.00,148.30 L241.06,148.29 L243.12,148.29 L245.18,148.29 L247.24,148.28 L249.30,148.28 L251.36,148.28 L253.42,148.27 L255.48,148.27 L257.54,148.27 L259.60,148.27" fill="none" stroke="#c06828" stroke-width="1.4" stroke-linejoin="round" />
<rect x="72.00" y="158.00" width="4.40" height="4.40" fill="#2c5d85"/>
<rect x="82.30" y="137.51" width="4.40" height="4.40" fill="#2c5d85"/>
<rect x="92.60" y="117.45" width="4.40" height="4.40" fill="#2c5d85"/>
<rect x="102.90" y="98.23" width="4.40" height="4.40" fill="#2c5d85"/>
<rect x="113.20" y="85.27" width="4.40" height="4.40" fill="#2c5d85"/>
<rect x="123.50" y="71.92" width="4.40" height="4.40" fill="#2c5d85"/>
<rect x="133.80" y="62.84" width="4.40" height="4.40" fill="#2c5d85"/>
<rect x="144.10" y="56.16" width="4.40" height="4.40" fill="#2c5d85"/>
<rect x="154.40" y="48.81" width="4.40" height="4.40" fill="#2c5d85"/>
<rect x="164.70" y="45.54" width="4.40" height="4.40" fill="#2c5d85"/>
<rect x="175.00" y="40.71" width="4.40" height="4.40" fill="#2c5d85"/>
<rect x="185.30" y="38.99" width="4.40" height="4.40" fill="#2c5d85"/>
<rect x="195.60" y="36.76" width="4.40" height="4.40" fill="#2c5d85"/>
<rect x="205.90" y="34.10" width="4.40" height="4.40" fill="#2c5d85"/>
<rect x="216.20" y="31.62" width="4.40" height="4.40" fill="#2c5d85"/>
<rect x="226.50" y="32.77" width="4.40" height="4.40" fill="#2c5d85"/>
<rect x="236.80" y="31.74" width="4.40" height="4.40" fill="#2c5d85"/>
<rect x="247.10" y="29.97" width="4.40" height="4.40" fill="#2c5d85"/>
<rect x="257.40" y="28.59" width="4.40" height="4.40" fill="#2c5d85"/>
<circle cx="74.20" cy="160.20" r="2.31" fill="#6e7a2a"/>
<circle cx="84.50" cy="145.94" r="2.31" fill="#6e7a2a"/>
<circle cx="94.80" cy="129.26" r="2.31" fill="#6e7a2a"/>
<circle cx="105.10" cy="111.28" r="2.31" fill="#6e7a2a"/>
<circle cx="115.40" cy="99.48" r="2.31" fill="#6e7a2a"/>
<circle cx="125.70" cy="85.02" r="2.31" fill="#6e7a2a"/>
<circle cx="136.00" cy="76.64" r="2.31" fill="#6e7a2a"/>
<circle cx="146.30" cy="69.06" r="2.31" fill="#6e7a2a"/>
<circle cx="156.60" cy="62.85" r="2.31" fill="#6e7a2a"/>
<circle cx="166.90" cy="57.46" r="2.31" fill="#6e7a2a"/>
<circle cx="177.20" cy="52.32" r="2.31" fill="#6e7a2a"/>
<circle cx="187.50" cy="51.31" r="2.31" fill="#6e7a2a"/>
<circle cx="197.80" cy="48.10" r="2.31" fill="#6e7a2a"/>
<circle cx="208.10" cy="46.40" r="2.31" fill="#6e7a2a"/>
<circle cx="218.40" cy="46.02" r="2.31" fill="#6e7a2a"/>
<circle cx="228.70" cy="44.71" r="2.31" fill="#6e7a2a"/>
<circle cx="239.00" cy="45.49" r="2.31" fill="#6e7a2a"/>
<circle cx="249.30" cy="45.08" r="2.31" fill="#6e7a2a"/>
<circle cx="259.60" cy="44.37" r="2.31" fill="#6e7a2a"/>
<path d="M74.20,157.56 L76.84,162.40 L71.56,162.40Z" fill="#4e2c18"/>
<path d="M84.50,144.94 L87.14,149.78 L81.86,149.78Z" fill="#4e2c18"/>
<path d="M94.80,130.29 L97.44,135.13 L92.16,135.13Z" fill="#4e2c18"/>
<path d="M105.10,115.84 L107.74,120.68 L102.46,120.68Z" fill="#4e2c18"/>
<path d="M115.40,102.01 L118.04,106.85 L112.76,106.85Z" fill="#4e2c18"/>
<path d="M125.70,91.22 L128.34,96.06 L123.06,96.06Z" fill="#4e2c18"/>
<path d="M136.00,82.46 L138.64,87.30 L133.36,87.30Z" fill="#4e2c18"/>
<path d="M146.30,73.81 L148.94,78.65 L143.66,78.65Z" fill="#4e2c18"/>
<path d="M156.60,68.28 L159.24,73.12 L153.96,73.12Z" fill="#4e2c18"/>
<path d="M166.90,65.01 L169.54,69.85 L164.26,69.85Z" fill="#4e2c18"/>
<path d="M177.20,60.74 L179.84,65.58 L174.56,65.58Z" fill="#4e2c18"/>
<path d="M187.50,58.31 L190.14,63.15 L184.86,63.15Z" fill="#4e2c18"/>
<path d="M197.80,55.50 L200.44,60.34 L195.16,60.34Z" fill="#4e2c18"/>
<path d="M208.10,54.48 L210.74,59.32 L205.46,59.32Z" fill="#4e2c18"/>
<path d="M218.40,54.63 L221.04,59.47 L215.76,59.47Z" fill="#4e2c18"/>
<path d="M228.70,52.08 L231.34,56.92 L226.06,56.92Z" fill="#4e2c18"/>
<path d="M239.00,53.82 L241.64,58.66 L236.36,58.66Z" fill="#4e2c18"/>
<path d="M249.30,52.66 L251.94,57.50 L246.66,57.50Z" fill="#4e2c18"/>
<path d="M259.60,51.51 L262.24,56.35 L256.96,56.35Z" fill="#4e2c18"/>
<path d="M74.20,162.84 L76.84,158.00 L71.56,158.00Z" fill="#c0aa22"/>
<path d="M84.50,155.27 L87.14,150.43 L81.86,150.43Z" fill="#c0aa22"/>
<path d="M94.80,141.99 L97.44,137.15 L92.16,137.15Z" fill="#c0aa22"/>
<path d="M105.10,130.10 L107.74,125.26 L102.46,125.26Z" fill="#c0aa22"/>
<path d="M115.40,116.61 L118.04,111.77 L112.76,111.77Z" fill="#c0aa22"/>
<path d="M125.70,105.99 L128.34,101.15 L123.06,101.15Z" fill="#c0aa22"/>
<path d="M136.00,97.86 L138.64,93.02 L133.36,93.02Z" fill="#c0aa22"/>
<path d="M146.30,90.32 L148.94,85.48 L143.66,85.48Z" fill="#c0aa22"/>
<path d="M156.60,86.38 L159.24,81.54 L153.96,81.54Z" fill="#c0aa22"/>
<path d="M166.90,81.53 L169.54,76.69 L164.26,76.69Z" fill="#c0aa22"/>
<path d="M177.20,78.87 L179.84,74.03 L174.56,74.03Z" fill="#c0aa22"/>
<path d="M187.50,76.82 L190.14,71.98 L184.86,71.98Z" fill="#c0aa22"/>
<path d="M197.80,75.65 L200.44,70.81 L195.16,70.81Z" fill="#c0aa22"/>
<path d="M208.10,73.73 L210.74,68.89 L205.46,68.89Z" fill="#c0aa22"/>
<path d="M218.40,72.80 L221.04,67.96 L215.76,67.96Z" fill="#c0aa22"/>
<path d="M228.70,73.45 L231.34,68.61 L226.06,68.61Z" fill="#c0aa22"/>
<path d="M239.00,72.70 L241.64,67.86 L236.36,67.86Z" fill="#c0aa22"/>
<path d="M249.30,73.93 L251.94,69.09 L246.66,69.09Z" fill="#c0aa22"/>
<path d="M259.60,72.29 L262.24,67.45 L256.96,67.45Z" fill="#c0aa22"/>
<path d="M74.20,157.34 L77.06,160.20 L74.20,163.06 L71.34,160.20Z" fill="#4a3c98"/>
<path d="M84.50,146.17 L87.36,149.03 L84.50,151.89 L81.64,149.03Z" fill="#4a3c98"/>
<path d="M94.80,134.85 L97.66,137.71 L94.80,140.57 L91.94,137.71Z" fill="#4a3c98"/>
<path d="M105.10,125.93 L107.96,128.79 L105.10,131.65 L102.24,128.79Z" fill="#4a3c98"/>
<path d="M115.40,119.17 L118.26,122.03 L115.40,124.89 L112.54,122.03Z" fill="#4a3c98"/>
<path d="M125.70,112.36 L128.56,115.22 L125.70,118.08 L122.84,115.22Z" fill="#4a3c98"/>
<path d="M136.00,106.32 L138.86,109.18 L136.00,112.04 L133.14,109.18Z" fill="#4a3c98"/>
<path d="M146.30,103.19 L149.16,106.05 L146.30,108.91 L143.44,106.05Z" fill="#4a3c98"/>
<path d="M156.60,98.63 L159.46,101.49 L156.60,104.35 L153.74,101.49Z" fill="#4a3c98"/>
<path d="M166.90,96.29 L169.76,99.15 L166.90,102.01 L164.04,99.15Z" fill="#4a3c98"/>
<path d="M177.20,94.00 L180.06,96.86 L177.20,99.72 L174.34,96.86Z" fill="#4a3c98"/>
<path d="M187.50,92.20 L190.36,95.06 L187.50,97.92 L184.64,95.06Z" fill="#4a3c98"/>
<path d="M197.80,89.19 L200.66,92.05 L197.80,94.91 L194.94,92.05Z" fill="#4a3c98"/>
<path d="M208.10,89.29 L210.96,92.15 L208.10,95.01 L205.24,92.15Z" fill="#4a3c98"/>
<path d="M218.40,88.06 L221.26,90.92 L218.40,93.78 L215.54,90.92Z" fill="#4a3c98"/>
<path d="M228.70,86.98 L231.56,89.84 L228.70,92.70 L225.84,89.84Z" fill="#4a3c98"/>
<path d="M239.00,85.37 L241.86,88.23 L239.00,91.09 L236.14,88.23Z" fill="#4a3c98"/>
<path d="M249.30,86.52 L252.16,89.38 L249.30,92.24 L246.44,89.38Z" fill="#4a3c98"/>
<path d="M259.60,85.37 L262.46,88.23 L259.60,91.09 L256.74,88.23Z" fill="#4a3c98"/>
<path d="M71.56,160.20 L76.40,157.56 L76.40,162.84Z" fill="#1c2660"/>
<path d="M81.86,152.46 L86.70,149.82 L86.70,155.10Z" fill="#1c2660"/>
<path d="M92.16,143.89 L97.00,141.25 L97.00,146.53Z" fill="#1c2660"/>
<path d="M102.46,136.79 L107.30,134.15 L107.30,139.43Z" fill="#1c2660"/>
<path d="M112.76,130.38 L117.60,127.74 L117.60,133.02Z" fill="#1c2660"/>
<path d="M123.06,126.03 L127.90,123.39 L127.90,128.67Z" fill="#1c2660"/>
<path d="M133.36,121.15 L138.20,118.51 L138.20,123.79Z" fill="#1c2660"/>
<path d="M143.66,117.37 L148.50,114.73 L148.50,120.01Z" fill="#1c2660"/>
<path d="M153.96,113.15 L158.80,110.51 L158.80,115.79Z" fill="#1c2660"/>
<path d="M164.26,110.33 L169.10,107.69 L169.10,112.97Z" fill="#1c2660"/>
<path d="M174.56,109.63 L179.40,106.99 L179.40,112.27Z" fill="#1c2660"/>
<path d="M184.86,107.76 L189.70,105.12 L189.70,110.40Z" fill="#1c2660"/>
<path d="M195.16,106.18 L200.00,103.54 L200.00,108.82Z" fill="#1c2660"/>
<path d="M205.46,104.97 L210.30,102.33 L210.30,107.61Z" fill="#1c2660"/>
<path d="M215.76,103.52 L220.60,100.88 L220.60,106.16Z" fill="#1c2660"/>
<path d="M226.06,102.53 L230.90,99.89 L230.90,105.17Z" fill="#1c2660"/>
<path d="M236.36,102.50 L241.20,99.86 L241.20,105.14Z" fill="#1c2660"/>
<path d="M246.66,102.47 L251.50,99.83 L251.50,105.11Z" fill="#1c2660"/>
<path d="M256.96,101.29 L261.80,98.65 L261.80,103.93Z" fill="#1c2660"/>
<path d="M76.84,160.20 L72.00,157.56 L72.00,162.84Z" fill="#2a7034"/>
<path d="M87.14,155.92 L82.30,153.28 L82.30,158.56Z" fill="#2a7034"/>
<path d="M97.44,149.86 L92.60,147.22 L92.60,152.50Z" fill="#2a7034"/>
<path d="M107.74,143.52 L102.90,140.88 L102.90,146.16Z" fill="#2a7034"/>
<path d="M118.04,138.67 L113.20,136.03 L113.20,141.31Z" fill="#2a7034"/>
<path d="M128.34,134.28 L123.50,131.64 L123.50,136.92Z" fill="#2a7034"/>
<path d="M138.64,130.08 L133.80,127.44 L133.80,132.72Z" fill="#2a7034"/>
<path d="M148.94,126.57 L144.10,123.93 L144.10,129.21Z" fill="#2a7034"/>
<path d="M159.24,124.76 L154.40,122.12 L154.40,127.40Z" fill="#2a7034"/>
<path d="M169.54,121.06 L164.70,118.42 L164.70,123.70Z" fill="#2a7034"/>
<path d="M179.84,119.38 L175.00,116.74 L175.00,122.02Z" fill="#2a7034"/>
<path d="M190.14,117.73 L185.30,115.09 L185.30,120.37Z" fill="#2a7034"/>
<path d="M200.44,116.67 L195.60,114.03 L195.60,119.31Z" fill="#2a7034"/>
<path d="M210.74,116.40 L205.90,113.76 L205.90,119.04Z" fill="#2a7034"/>
<path d="M221.04,115.66 L216.20,113.02 L216.20,118.30Z" fill="#2a7034"/>
<path d="M231.34,115.58 L226.50,112.94 L226.50,118.22Z" fill="#2a7034"/>
<path d="M241.64,114.28 L236.80,111.64 L236.80,116.92Z" fill="#2a7034"/>
<path d="M251.94,114.89 L247.10,112.25 L247.10,117.53Z" fill="#2a7034"/>
<path d="M262.24,114.64 L257.40,112.00 L257.40,117.28Z" fill="#2a7034"/>
<circle cx="74.20" cy="160.20" r="2.31" fill="#9c80b4"/>
<circle cx="84.50" cy="154.93" r="2.31" fill="#9c80b4"/>
<circle cx="94.80" cy="150.26" r="2.31" fill="#9c80b4"/>
<circle cx="105.10" cy="146.06" r="2.31" fill="#9c80b4"/>
<circle cx="115.40" cy="143.18" r="2.31" fill="#9c80b4"/>
<circle cx="125.70" cy="140.50" r="2.31" fill="#9c80b4"/>
<circle cx="136.00" cy="138.00" r="2.31" fill="#9c80b4"/>
<circle cx="146.30" cy="136.16" r="2.31" fill="#9c80b4"/>
<circle cx="156.60" cy="134.20" r="2.31" fill="#9c80b4"/>
<circle cx="166.90" cy="133.35" r="2.31" fill="#9c80b4"/>
<circle cx="177.20" cy="131.04" r="2.31" fill="#9c80b4"/>
<circle cx="187.50" cy="130.49" r="2.31" fill="#9c80b4"/>
<circle cx="197.80" cy="130.38" r="2.31" fill="#9c80b4"/>
<circle cx="208.10" cy="129.59" r="2.31" fill="#9c80b4"/>
<circle cx="218.40" cy="128.92" r="2.31" fill="#9c80b4"/>
<circle cx="228.70" cy="128.45" r="2.31" fill="#9c80b4"/>
<circle cx="239.00" cy="128.42" r="2.31" fill="#9c80b4"/>
<circle cx="249.30" cy="127.08" r="2.31" fill="#9c80b4"/>
<circle cx="259.60" cy="126.62" r="2.31" fill="#9c80b4"/>
<path d="M74.20,157.23 L74.98,159.13 L77.02,159.28 L75.46,160.61 L75.95,162.60 L74.20,161.52 L72.45,162.60 L72.94,160.61 L71.38,159.28 L73.42,159.13Z" fill="#2536a0"/>
<path d="M84.50,152.32 L85.28,154.23 L87.32,154.38 L85.76,155.70 L86.25,157.70 L84.50,156.61 L82.75,157.70 L83.24,155.70 L81.68,154.38 L83.72,154.23Z" fill="#2536a0"/>
<path d="M94.80,148.33 L95.58,150.23 L97.62,150.38 L96.06,151.71 L96.55,153.70 L94.80,152.62 L93.05,153.70 L93.54,151.71 L91.98,150.38 L94.02,150.23Z" fill="#2536a0"/>
<path d="M105.10,145.72 L105.88,147.63 L107.92,147.78 L106.36,149.10 L106.85,151.10 L105.10,150.01 L103.35,151.10 L103.84,149.10 L102.28,147.78 L104.32,147.63Z" fill="#2536a0"/>
<path d="M115.40,143.32 L116.18,145.23 L118.22,145.38 L116.66,146.70 L117.15,148.70 L115.40,147.61 L113.65,148.70 L114.14,146.70 L112.58,145.38 L114.62,145.23Z" fill="#2536a0"/>
<path d="M125.70,141.21 L126.48,143.11 L128.52,143.26 L126.96,144.58 L127.45,146.58 L125.70,145.50 L123.95,146.58 L124.44,144.58 L122.88,143.26 L124.92,143.11Z" fill="#2536a0"/>
<path d="M136.00,139.91 L136.78,141.81 L138.82,141.96 L137.26,143.29 L137.75,145.28 L136.00,144.20 L134.25,145.28 L134.74,143.29 L133.18,141.96 L135.22,141.81Z" fill="#2536a0"/>
<path d="M146.30,138.16 L147.08,140.06 L149.12,140.21 L147.56,141.54 L148.05,143.53 L146.30,142.45 L144.55,143.53 L145.04,141.54 L143.48,140.21 L145.52,140.06Z" fill="#2536a0"/>
<path d="M156.60,138.17 L157.38,140.07 L159.42,140.22 L157.86,141.54 L158.35,143.54 L156.60,142.46 L154.85,143.54 L155.34,141.54 L153.78,140.22 L155.82,140.07Z" fill="#2536a0"/>
<path d="M166.90,137.72 L167.68,139.62 L169.72,139.77 L168.16,141.10 L168.65,143.09 L166.90,142.01 L165.15,143.09 L165.64,141.10 L164.08,139.77 L166.12,139.62Z" fill="#2536a0"/>
<path d="M177.20,136.12 L177.98,138.03 L180.02,138.18 L178.46,139.50 L178.95,141.50 L177.20,140.41 L175.45,141.50 L175.94,139.50 L174.38,138.18 L176.42,138.03Z" fill="#2536a0"/>
<path d="M187.50,136.29 L188.28,138.19 L190.32,138.34 L188.76,139.67 L189.25,141.66 L187.50,140.58 L185.75,141.66 L186.24,139.67 L184.68,138.34 L186.72,138.19Z" fill="#2536a0"/>
<path d="M197.80,136.49 L198.58,138.39 L200.62,138.54 L199.06,139.87 L199.55,141.86 L197.80,140.78 L196.05,141.86 L196.54,139.87 L194.98,138.54 L197.02,138.39Z" fill="#2536a0"/>
<path d="M208.10,135.80 L208.88,137.71 L210.92,137.86 L209.36,139.18 L209.85,141.18 L208.10,140.09 L206.35,141.18 L206.84,139.18 L205.28,137.86 L207.32,137.71Z" fill="#2536a0"/>
<path d="M218.40,136.28 L219.18,138.18 L221.22,138.34 L219.66,139.66 L220.15,141.66 L218.40,140.57 L216.65,141.66 L217.14,139.66 L215.58,138.34 L217.62,138.18Z" fill="#2536a0"/>
<path d="M228.70,135.56 L229.48,137.46 L231.52,137.61 L229.96,138.93 L230.45,140.93 L228.70,139.85 L226.95,140.93 L227.44,138.93 L225.88,137.61 L227.92,137.46Z" fill="#2536a0"/>
<path d="M239.00,134.92 L239.78,136.82 L241.82,136.97 L240.26,138.30 L240.75,140.29 L239.00,139.21 L237.25,140.29 L237.74,138.30 L236.18,136.97 L238.22,136.82Z" fill="#2536a0"/>
<path d="M249.30,135.00 L250.08,136.90 L252.12,137.05 L250.56,138.37 L251.05,140.37 L249.30,139.29 L247.55,140.37 L248.04,138.37 L246.48,137.05 L248.52,136.90Z" fill="#2536a0"/>
<path d="M259.60,135.15 L260.38,137.05 L262.42,137.20 L260.86,138.53 L261.35,140.52 L259.60,139.44 L257.85,140.52 L258.34,138.53 L256.78,137.20 L258.82,137.05Z" fill="#2536a0"/>
<circle cx="74.20" cy="160.20" r="2.31" fill="#8a4e14"/>
<circle cx="84.50" cy="158.13" r="2.31" fill="#8a4e14"/>
<circle cx="94.80" cy="155.49" r="2.31" fill="#8a4e14"/>
<circle cx="105.10" cy="153.61" r="2.31" fill="#8a4e14"/>
<circle cx="115.40" cy="151.41" r="2.31" fill="#8a4e14"/>
<circle cx="125.70" cy="150.55" r="2.31" fill="#8a4e14"/>
<circle cx="136.00" cy="149.53" r="2.31" fill="#8a4e14"/>
<circle cx="146.30" cy="149.51" r="2.31" fill="#8a4e14"/>
<circle cx="156.60" cy="149.31" r="2.31" fill="#8a4e14"/>
<circle cx="166.90" cy="148.49" r="2.31" fill="#8a4e14"/>
<circle cx="177.20" cy="148.19" r="2.31" fill="#8a4e14"/>
<circle cx="187.50" cy="148.25" r="2.31" fill="#8a4e14"/>
<circle cx="197.80" cy="148.26" r="2.31" fill="#8a4e14"/>
<circle cx="208.10" cy="148.22" r="2.31" fill="#8a4e14"/>
<circle cx="218.40" cy="148.29" r="2.31" fill="#8a4e14"/>
<circle cx="228.70" cy="148.82" r="2.31" fill="#8a4e14"/>
<circle cx="239.00" cy="148.51" r="2.31" fill="#8a4e14"/>
<circle cx="249.30" cy="148.68" r="2.31" fill="#8a4e14"/>
<circle cx="259.60" cy="149.02" r="2.31" fill="#8a4e14"/>
</g>
<rect x="183.7" y="67.8" width="15.5" height="10.9" fill="none" stroke="#1e1008" stroke-width="1.6" stroke-dasharray="3,2"/>
<line x1="199.20" y1="67.80" x2="270.00" y2="39.00" stroke="#707070" stroke-width="1.6" stroke-dasharray="3.5,2.5"/>
<line x1="199.20" y1="78.70" x2="270.30" y2="123.20" stroke="#707070" stroke-width="1.6" stroke-dasharray="3.5,2.5"/>
<rect x="69.00" y="17.30" width="191.00" height="145.50" fill="none" stroke="#363636" stroke-width="1.4"/>
<rect x="78.60" y="24.90" width="4.40" height="4.40" fill="#2c5d85"/>
<circle cx="80.80" cy="35.17" r="2.31" fill="#6e7a2a"/>
<path d="M80.80,40.60 L83.44,45.44 L78.16,45.44Z" fill="#4e2c18"/>
<path d="M80.80,53.95 L83.44,49.11 L78.16,49.11Z" fill="#c0aa22"/>
<path d="M80.80,56.52 L83.66,59.38 L80.80,62.24 L77.94,59.38Z" fill="#4a3c98"/>
<path d="M78.16,67.45 L83.00,64.81 L83.00,70.09Z" fill="#1c2660"/>
<path d="M83.44,75.52 L78.60,72.88 L78.60,78.16Z" fill="#2a7034"/>
<circle cx="80.80" cy="83.59" r="2.31" fill="#9c80b4"/>
<path d="M80.80,88.69 L81.58,90.59 L83.62,90.74 L82.06,92.07 L82.55,94.06 L80.80,92.98 L79.05,94.06 L79.54,92.07 L77.98,90.74 L80.02,90.59Z" fill="#2536a0"/>
<circle cx="80.80" cy="99.73" r="2.31" fill="#8a4e14"/>
<text x="88.40" y="29.40" font-size="7.6" text-anchor="start" fill="#1a1a1a" stroke="#1a1a1a" stroke-width="0.25">1 nM</text>
<text x="88.40" y="38.52" font-size="7.6" text-anchor="start" fill="#1a1a1a" stroke="#1a1a1a" stroke-width="0.25">100 pM</text>
<text x="88.40" y="47.64" font-size="7.6" text-anchor="start" fill="#1a1a1a" stroke="#1a1a1a" stroke-width="0.25">10 pM</text>
<text x="88.40" y="56.76" font-size="7.6" text-anchor="start" fill="#1a1a1a" stroke="#1a1a1a" stroke-width="0.25">1 pM</text>
<text x="88.40" y="65.88" font-size="7.6" text-anchor="start" fill="#1a1a1a" stroke="#1a1a1a" stroke-width="0.25">100 fM</text>
<text x="88.40" y="75.00" font-size="7.6" text-anchor="start" fill="#1a1a1a" stroke="#1a1a1a" stroke-width="0.25">1 fM</text>
<text x="88.40" y="84.12" font-size="7.6" text-anchor="start" fill="#1a1a1a" stroke="#1a1a1a" stroke-width="0.25">100 aM</text>
<text x="88.40" y="93.24" font-size="7.6" text-anchor="start" fill="#1a1a1a" stroke="#1a1a1a" stroke-width="0.25">10 aM</text>
<text x="88.40" y="102.36" font-size="7.6" text-anchor="start" fill="#1a1a1a" stroke="#1a1a1a" stroke-width="0.25">1 aM</text>
<text x="271.80" y="19.90" font-size="20" text-anchor="start" fill="#1a1a1a" >(b)</text>
<line x1="342.00" y1="147.30" x2="346.00" y2="147.30" stroke="#3a3a3a" stroke-width="1.3" />
<text x="340.00" y="153.10" font-size="15" text-anchor="end" fill="#1a1a1a" >30.0</text>
<line x1="343.50" y1="130.76" x2="346.00" y2="130.76" stroke="#3a3a3a" stroke-width="1.3" />
<line x1="342.00" y1="114.23" x2="346.00" y2="114.23" stroke="#3a3a3a" stroke-width="1.3" />
<text x="340.00" y="120.03" font-size="15" text-anchor="end" fill="#1a1a1a" >30.5</text>
<line x1="343.50" y1="97.69" x2="346.00" y2="97.69" stroke="#3a3a3a" stroke-width="1.3" />
<line x1="342.00" y1="81.15" x2="346.00" y2="81.15" stroke="#3a3a3a" stroke-width="1.3" />
<text x="340.00" y="86.95" font-size="15" text-anchor="end" fill="#1a1a1a" >31.0</text>
<line x1="343.50" y1="64.61" x2="346.00" y2="64.61" stroke="#3a3a3a" stroke-width="1.3" />
<line x1="342.00" y1="48.08" x2="346.00" y2="48.08" stroke="#3a3a3a" stroke-width="1.3" />
<text x="340.00" y="53.88" font-size="15" text-anchor="end" fill="#1a1a1a" >31.5</text>
<line x1="343.50" y1="31.54" x2="346.00" y2="31.54" stroke="#3a3a3a" stroke-width="1.3" />
<line x1="342.00" y1="15.00" x2="346.00" y2="15.00" stroke="#3a3a3a" stroke-width="1.3" />
<text x="340.00" y="20.80" font-size="15" text-anchor="end" fill="#1a1a1a" >32.0</text>
<line x1="346.00" y1="160.60" x2="346.00" y2="163.60" stroke="#3a3a3a" stroke-width="1.3" />
<line x1="365.46" y1="160.60" x2="365.46" y2="163.60" stroke="#3a3a3a" stroke-width="1.3" />
<line x1="384.92" y1="160.60" x2="384.92" y2="163.60" stroke="#3a3a3a" stroke-width="1.3" />
<line x1="404.38" y1="160.60" x2="404.38" y2="163.60" stroke="#3a3a3a" stroke-width="1.3" />
<line x1="423.84" y1="160.60" x2="423.84" y2="163.60" stroke="#3a3a3a" stroke-width="1.3" />
<line x1="443.30" y1="160.60" x2="443.30" y2="163.60" stroke="#3a3a3a" stroke-width="1.3" />
<line x1="462.76" y1="160.60" x2="462.76" y2="163.60" stroke="#3a3a3a" stroke-width="1.3" />
<line x1="482.22" y1="160.60" x2="482.22" y2="163.60" stroke="#3a3a3a" stroke-width="1.3" />
<line x1="501.68" y1="160.60" x2="501.68" y2="163.60" stroke="#3a3a3a" stroke-width="1.3" />
<line x1="521.14" y1="160.60" x2="521.14" y2="163.60" stroke="#3a3a3a" stroke-width="1.3" />
<line x1="540.60" y1="160.60" x2="540.60" y2="163.60" stroke="#3a3a3a" stroke-width="1.3" />
<text x="347.00" y="179.60" font-size="15" text-anchor="middle" fill="#1a1a1a" >0</text>
<text x="377.90" y="179.60" font-size="15" text-anchor="middle" fill="#1a1a1a" >30</text>
<text x="408.80" y="179.60" font-size="15" text-anchor="middle" fill="#1a1a1a" >60</text>
<text x="439.70" y="179.60" font-size="15" text-anchor="middle" fill="#1a1a1a" >90</text>
<text x="470.60" y="179.60" font-size="15" text-anchor="middle" fill="#1a1a1a" >120</text>
<text x="501.50" y="179.60" font-size="15" text-anchor="middle" fill="#1a1a1a" >150</text>
<text x="532.40" y="179.60" font-size="15" text-anchor="middle" fill="#1a1a1a" >180</text>
<text x="439.00" y="199.40" font-size="17.3" text-anchor="middle" fill="#1a1a1a" >Time (min)</text>
<text transform="translate(303.60,138.40) rotate(-90)" font-size="17.3" fill="#1a1a1a"><tspan font-style="italic">Δλ</tspan><tspan font-size="11.6" dy="4.2">max-red</tspan><tspan dy="-4.2"> (nm)</tspan></text>
<path d="M347.00,125.87 L350.25,125.60 L353.50,133.55 L356.75,137.06 L360.00,134.32 L363.25,126.21 L366.50,135.42 L369.75,127.66 L373.00,137.20 L376.25,124.98 L379.50,133.54 L382.75,125.66 L386.00,133.39 L389.25,126.20 L392.50,137.25 L395.75,124.16 L399.00,136.89 L402.25,124.09 L405.50,133.69 L408.75,134.24 L410.60,104.00 L411.00,110.13 L414.25,97.56 L417.50,110.95 L420.75,108.87 L424.00,109.70 L427.25,101.33 L430.50,107.87 L433.75,99.24 L437.00,100.86 L440.25,97.68 L443.50,107.48 L446.75,101.22 L450.00,107.33 L453.25,110.71 L456.50,100.87 L459.75,97.88 L463.00,111.12 L466.25,98.77 L469.50,97.57 L472.75,97.45 L476.00,108.11 L479.60,79.00 L480.50,83.60 L483.75,74.03 L487.00,83.72 L490.25,83.38 L493.50,84.66 L496.75,82.43 L500.00,72.47 L503.25,75.96 L506.50,85.44 L509.75,73.35 L513.00,76.08 L516.25,75.88 L519.50,75.05 L522.75,83.16 L526.00,84.88 L529.25,73.24 L532.50,84.06 L535.75,74.88 L539.00,85.58" fill="none" stroke="#202020" stroke-width="1.3" stroke-linejoin="round" />
<line x1="346.50" y1="130.80" x2="409.00" y2="130.80" stroke="#ffb0d0" stroke-width="6.5" opacity="0.6"/>
<line x1="346.50" y1="130.80" x2="409.00" y2="130.80" stroke="#c83418" stroke-width="4.2" />
<line x1="410.00" y1="104.00" x2="478.40" y2="104.00" stroke="#b8f6ff" stroke-width="12" opacity="0.45"/>
<line x1="478.30" y1="79.00" x2="541.00" y2="79.00" stroke="#ffc0e8" stroke-width="12" opacity="0.4"/>
<line x1="410.00" y1="104.00" x2="478.40" y2="104.00" stroke="#2a2ab8" stroke-width="3.8" />
<line x1="478.30" y1="79.00" x2="541.00" y2="79.00" stroke="#a878b8" stroke-width="3.2" />
<rect x="344.90" y="123.77" width="4.2" height="4.2" fill="#141414"/>
<rect x="348.15" y="123.50" width="4.2" height="4.2" fill="#141414"/>
<rect x="351.40" y="131.45" width="4.2" height="4.2" fill="#141414"/>
<rect x="354.65" y="134.96" width="4.2" height="4.2" fill="#141414"/>
<rect x="357.90" y="132.22" width="4.2" height="4.2" fill="#141414"/>
<rect x="361.15" y="124.11" width="4.2" height="4.2" fill="#141414"/>
<rect x="364.40" y="133.32" width="4.2" height="4.2" fill="#141414"/>
<rect x="367.65" y="125.56" width="4.2" height="4.2" fill="#141414"/>
<rect x="370.90" y="135.10" width="4.2" height="4.2" fill="#141414"/>
<rect x="374.15" y="122.88" width="4.2" height="4.2" fill="#141414"/>
<rect x="377.40" y="131.44" width="4.2" height="4.2" fill="#141414"/>
<rect x="380.65" y="123.56" width="4.2" height="4.2" fill="#141414"/>
<rect x="383.90" y="131.29" width="4.2" height="4.2" fill="#141414"/>
<rect x="387.15" y="124.10" width="4.2" height="4.2" fill="#141414"/>
<rect x="390.40" y="135.15" width="4.2" height="4.2" fill="#141414"/>
<rect x="393.65" y="122.06" width="4.2" height="4.2" fill="#141414"/>
<rect x="396.90" y="134.79" width="4.2" height="4.2" fill="#141414"/>
<rect x="400.15" y="121.99" width="4.2" height="4.2" fill="#141414"/>
<rect x="403.40" y="131.59" width="4.2" height="4.2" fill="#141414"/>
<rect x="406.65" y="132.14" width="4.2" height="4.2" fill="#141414"/>
<rect x="408.50" y="101.90" width="4.2" height="4.2" fill="#141414"/>
<rect x="408.90" y="108.03" width="4.2" height="4.2" fill="#141414"/>
<rect x="412.15" y="95.46" width="4.2" height="4.2" fill="#141414"/>
<rect x="415.40" y="108.85" width="4.2" height="4.2" fill="#141414"/>
<rect x="418.65" y="106.77" width="4.2" height="4.2" fill="#141414"/>
<rect x="421.90" y="107.60" width="4.2" height="4.2" fill="#141414"/>
<rect x="425.15" y="99.23" width="4.2" height="4.2" fill="#141414"/>
<rect x="428.40" y="105.77" width="4.2" height="4.2" fill="#141414"/>
<rect x="431.65" y="97.14" width="4.2" height="4.2" fill="#141414"/>
<rect x="434.90" y="98.76" width="4.2" height="4.2" fill="#141414"/>
<rect x="438.15" y="95.58" width="4.2" height="4.2" fill="#141414"/>
<rect x="441.40" y="105.38" width="4.2" height="4.2" fill="#141414"/>
<rect x="444.65" y="99.12" width="4.2" height="4.2" fill="#141414"/>
<rect x="447.90" y="105.23" width="4.2" height="4.2" fill="#141414"/>
<rect x="451.15" y="108.61" width="4.2" height="4.2" fill="#141414"/>
<rect x="454.40" y="98.77" width="4.2" height="4.2" fill="#141414"/>
<rect x="457.65" y="95.78" width="4.2" height="4.2" fill="#141414"/>
<rect x="460.90" y="109.02" width="4.2" height="4.2" fill="#141414"/>
<rect x="464.15" y="96.67" width="4.2" height="4.2" fill="#141414"/>
<rect x="467.40" y="95.47" width="4.2" height="4.2" fill="#141414"/>
<rect x="470.65" y="95.35" width="4.2" height="4.2" fill="#141414"/>
<rect x="473.90" y="106.01" width="4.2" height="4.2" fill="#141414"/>
<rect x="477.50" y="76.90" width="4.2" height="4.2" fill="#141414"/>
<rect x="478.40" y="81.50" width="4.2" height="4.2" fill="#141414"/>
<rect x="481.65" y="71.93" width="4.2" height="4.2" fill="#141414"/>
<rect x="484.90" y="81.62" width="4.2" height="4.2" fill="#141414"/>
<rect x="488.15" y="81.28" width="4.2" height="4.2" fill="#141414"/>
<rect x="491.40" y="82.56" width="4.2" height="4.2" fill="#141414"/>
<rect x="494.65" y="80.33" width="4.2" height="4.2" fill="#141414"/>
<rect x="497.90" y="70.37" width="4.2" height="4.2" fill="#141414"/>
<rect x="501.15" y="73.86" width="4.2" height="4.2" fill="#141414"/>
<rect x="504.40" y="83.34" width="4.2" height="4.2" fill="#141414"/>
<rect x="507.65" y="71.25" width="4.2" height="4.2" fill="#141414"/>
<rect x="510.90" y="73.98" width="4.2" height="4.2" fill="#141414"/>
<rect x="514.15" y="73.78" width="4.2" height="4.2" fill="#141414"/>
<rect x="517.40" y="72.95" width="4.2" height="4.2" fill="#141414"/>
<rect x="520.65" y="81.06" width="4.2" height="4.2" fill="#141414"/>
<rect x="523.90" y="82.78" width="4.2" height="4.2" fill="#141414"/>
<rect x="527.15" y="71.14" width="4.2" height="4.2" fill="#141414"/>
<rect x="530.40" y="81.96" width="4.2" height="4.2" fill="#141414"/>
<rect x="533.65" y="72.78" width="4.2" height="4.2" fill="#141414"/>
<rect x="536.90" y="83.48" width="4.2" height="4.2" fill="#141414"/>
<line x1="410.50" y1="130.40" x2="526.00" y2="130.40" stroke="#b89a5a" stroke-width="1.2" stroke-dasharray="3,2.5"/>
<line x1="479.00" y1="105.30" x2="526.00" y2="105.30" stroke="#b89a5a" stroke-width="1.2" stroke-dasharray="3,2.5"/>
<line x1="410.30" y1="154.70" x2="410.30" y2="135.90" stroke="#b88a48" stroke-width="1.4" />
<path d="M410.30,133.50 L408.10,137.50 L412.50,137.50Z" fill="#b88a48"/>
<line x1="479.00" y1="129.00" x2="479.00" y2="110.90" stroke="#b88a48" stroke-width="1.4" />
<path d="M479.00,108.50 L476.80,112.50 L481.20,112.50Z" fill="#b88a48"/>
<line x1="516.40" y1="81.50" x2="516.40" y2="129.50" stroke="#c8f4ff" stroke-width="4.0" />
<line x1="516.40" y1="105.30" x2="516.40" y2="83.80" stroke="#4a76c8" stroke-width="1.2" />
<path d="M516.40,82.00 L514.60,85.00 L518.20,85.00Z" fill="#4a76c8"/>
<line x1="516.40" y1="105.30" x2="516.40" y2="127.70" stroke="#4a76c8" stroke-width="1.2" />
<path d="M516.40,129.50 L514.60,126.50 L518.20,126.50Z" fill="#4a76c8"/>
<text x="500.30" y="121.30" font-size="9.8" text-anchor="start" font-style="italic" fill="#1a1a1a" stroke="#1a1a1a" stroke-width="0.3">0.4 nm</text>
<text x="415.30" y="148.80" font-size="9.95" text-anchor="start" font-style="italic" fill="#1a1a1a" stroke="#1a1a1a" stroke-width="0.3">Single miR-21 hybridization</text>
<path d="M350.0,65.5 L401.2,59.1 L372.0,81.2Z" fill="#c8fbff" opacity="0.75"/>
<line x1="375.40" y1="31.59" x2="349.10" y2="64.79" stroke="#f0a040" stroke-width="2.0" />
<line x1="377.20" y1="33.01" x2="350.90" y2="66.21" stroke="#2e2e2e" stroke-width="1.7" />
<line x1="402.04" y1="58.32" x2="377.14" y2="31.52" stroke="#f0dc60" stroke-width="2.0" />
<line x1="400.36" y1="59.88" x2="375.46" y2="33.08" stroke="#2e2e2e" stroke-width="1.7" />
<line x1="372.69" y1="82.12" x2="401.89" y2="60.02" stroke="#c88ae0" stroke-width="2.0" />
<line x1="371.31" y1="80.28" x2="400.51" y2="58.18" stroke="#2e2e2e" stroke-width="1.7" />
<line x1="350.00" y1="65.50" x2="401.20" y2="59.10" stroke="#3c7ad0" stroke-width="4.4" />
<line x1="350.00" y1="65.50" x2="372.00" y2="81.20" stroke="#3c6cc4" stroke-width="4.6" />
<line x1="375.10" y1="32.19" x2="370.80" y2="81.09" stroke="#38a848" stroke-width="1.6" />
<line x1="377.50" y1="32.41" x2="373.20" y2="81.31" stroke="#505850" stroke-width="1.36" />
<circle cx="376.3" cy="32.3" r="1.3" fill="#303030"/>
<circle cx="350.0" cy="65.5" r="1.3" fill="#303030"/>
<circle cx="401.2" cy="59.1" r="1.3" fill="#303030"/>
<circle cx="372.0" cy="81.2" r="1.3" fill="#303030"/>
<path d="M440.8,63.9 L493.0,59.0 L462.4,79.7Z" fill="#c8fbff" opacity="0.75"/>
<line x1="466.41" y1="30.87" x2="439.91" y2="63.17" stroke="#f0a040" stroke-width="2.0" />
<line x1="468.19" y1="32.33" x2="441.69" y2="64.63" stroke="#2e2e2e" stroke-width="1.7" />
<line x1="493.84" y1="58.21" x2="468.14" y2="30.81" stroke="#f0dc60" stroke-width="2.0" />
<line x1="492.16" y1="59.79" x2="466.46" y2="32.39" stroke="#2e2e2e" stroke-width="1.7" />
<line x1="463.04" y1="80.65" x2="493.64" y2="59.95" stroke="#c88ae0" stroke-width="2.0" />
<line x1="461.76" y1="78.75" x2="492.36" y2="58.05" stroke="#2e2e2e" stroke-width="1.7" />
<line x1="440.80" y1="63.90" x2="493.00" y2="59.00" stroke="#3c7ad0" stroke-width="4.4" />
<line x1="440.80" y1="63.90" x2="462.40" y2="79.70" stroke="#3c6cc4" stroke-width="4.6" />
<line x1="466.11" y1="31.48" x2="461.21" y2="79.58" stroke="#38a848" stroke-width="1.6" />
<line x1="468.49" y1="31.72" x2="463.59" y2="79.82" stroke="#505850" stroke-width="1.36" />
<circle cx="467.3" cy="31.6" r="1.3" fill="#303030"/>
<circle cx="440.8" cy="63.9" r="1.3" fill="#303030"/>
<circle cx="493.0" cy="59.0" r="1.3" fill="#303030"/>
<circle cx="462.4" cy="79.7" r="1.3" fill="#303030"/>
<path d="M468,31 C471,29 466,27 468.8,25 C471.5,23 466.5,21.5 470.5,19.2" fill="none" stroke="#8a6a80" stroke-width="1.3"/>
<text x="407.30" y="48.40" font-size="9.9" text-anchor="start" font-style="italic" fill="#1a1a1a" stroke="#1a1a1a" stroke-width="0.3">miR-21</text>
<path d="M409.2,54.4 q2.1,-4.5 4.2,0 t4.2,0 t4.2,0 t4.2,0 t4.2,0 t4.2,0" fill="none" stroke="#b08080" stroke-width="1.2"/>
<line x1="408.70" y1="62.50" x2="431.00" y2="62.50" stroke="#4a80d8" stroke-width="2.0" />
<path d="M435.3,62.5 L429.5,59.3 L429.5,65.7Z" fill="#4a80d8"/>
<text x="399.30" y="74.60" font-size="9.6" text-anchor="start" font-style="italic" fill="#1a1a1a" stroke="#1a1a1a" stroke-width="0.3">Targeting</text>
<rect x="346.00" y="15.00" width="195.00" height="145.60" fill="none" stroke="#363636" stroke-width="1.4"/>
<text x="4.10" y="227.00" font-size="20" text-anchor="start" fill="#1a1a1a" >(c)</text>
<line x1="65.30" y1="372.00" x2="69.30" y2="372.00" stroke="#111" stroke-width="1.5" />
<text x="62.90" y="376.60" font-size="15" text-anchor="end" fill="#1a1a1a" >0</text>
<line x1="65.30" y1="347.44" x2="69.30" y2="347.44" stroke="#111" stroke-width="1.5" />
<text x="62.90" y="352.04" font-size="15" text-anchor="end" fill="#1a1a1a" >50</text>
<line x1="65.30" y1="322.88" x2="69.30" y2="322.88" stroke="#111" stroke-width="1.5" />
<text x="62.90" y="327.48" font-size="15" text-anchor="end" fill="#1a1a1a" >100</text>
<line x1="65.30" y1="298.32" x2="69.30" y2="298.32" stroke="#111" stroke-width="1.5" />
<text x="62.90" y="302.92" font-size="15" text-anchor="end" fill="#1a1a1a" >150</text>
<line x1="65.30" y1="273.76" x2="69.30" y2="273.76" stroke="#111" stroke-width="1.5" />
<text x="62.90" y="278.36" font-size="15" text-anchor="end" fill="#1a1a1a" >200</text>
<line x1="65.30" y1="249.20" x2="69.30" y2="249.20" stroke="#111" stroke-width="1.5" />
<text x="62.90" y="253.80" font-size="15" text-anchor="end" fill="#1a1a1a" >250</text>
<line x1="90.63" y1="376.50" x2="90.63" y2="379.80" stroke="#111" stroke-width="1.5" />
<text x="90.63" y="395.30" font-size="15" text-anchor="middle" fill="#1a1a1a" >520</text>
<line x1="133.30" y1="376.50" x2="133.30" y2="379.80" stroke="#111" stroke-width="1.5" />
<text x="133.30" y="395.30" font-size="15" text-anchor="middle" fill="#1a1a1a" >540</text>
<line x1="175.97" y1="376.50" x2="175.97" y2="379.80" stroke="#111" stroke-width="1.5" />
<text x="175.97" y="395.30" font-size="15" text-anchor="middle" fill="#1a1a1a" >560</text>
<line x1="218.63" y1="376.50" x2="218.63" y2="379.80" stroke="#111" stroke-width="1.5" />
<text x="218.63" y="395.30" font-size="15" text-anchor="middle" fill="#1a1a1a" >580</text>
<line x1="261.30" y1="376.50" x2="261.30" y2="379.80" stroke="#111" stroke-width="1.5" />
<text x="261.30" y="395.30" font-size="15" text-anchor="middle" fill="#1a1a1a" >600</text>
<text x="161.00" y="414.00" font-size="17.95" text-anchor="middle" fill="#1a1a1a" >Wavelength (nm)</text>
<text transform="translate(30.4,372.4) rotate(-90)" font-size="17.6" fill="#1a1a1a">FL Intensity (a.u.)</text>
<text x="214.40" y="267.30" font-size="16" text-anchor="middle" fill="#1a1a1a" >a</text>
<line x1="214.80" y1="275.00" x2="214.80" y2="292.60" stroke="#111" stroke-width="1.6" />
<path d="M214.80,297.70 L210.60,289.20 L219.00,289.20Z" fill="#111"/>
<text x="214.30" y="311.80" font-size="15.5" text-anchor="middle" fill="#1a1a1a" >h</text>
<g clip-path="url(#clipC)">
<path d="M67.17,361.10 L68.58,360.70 L69.99,360.30 L71.40,359.91 L72.81,359.53 L74.23,359.17 L75.64,358.81 L77.05,358.48 L78.46,358.16 L79.87,357.86 L81.29,357.57 L82.70,357.31 L84.11,357.08 L85.52,356.86 L86.93,356.67 L88.35,356.51 L89.76,356.37 L91.17,356.26 L92.58,356.18 L93.99,356.13 L95.41,356.10 L96.82,356.08 L98.23,356.07 L99.64,356.08 L101.05,356.12 L102.47,356.19 L103.88,356.28 L105.29,356.39 L106.70,356.52 L108.11,356.68 L109.53,356.85 L110.94,357.04 L112.35,357.25 L113.76,357.48 L115.17,357.72 L116.59,357.97 L118.00,358.23 L119.41,358.51 L120.82,358.79 L122.23,359.08 L123.65,359.37 L125.06,359.67 L126.47,359.97 L127.88,360.27 L129.29,360.57 L130.71,360.88 L132.12,361.18 L133.53,361.47 L134.94,361.76 L136.35,362.05 L137.77,362.34 L139.18,362.61 L140.59,362.88 L142.00,363.15 L143.41,363.40 L144.83,363.65 L146.24,363.89 L147.65,364.12 L149.06,364.35 L150.47,364.56 L151.89,364.77 L153.30,364.97 L154.71,365.16 L156.12,365.35 L157.53,365.53 L158.95,365.70 L160.36,365.86 L161.77,366.02 L163.18,366.17 L164.59,366.32 L166.01,366.46 L167.42,366.59 L168.83,366.72 L170.24,366.84 L171.65,366.97 L173.07,367.08 L174.48,367.20 L175.89,367.31 L177.30,367.41 L178.71,367.52 L180.13,367.62 L181.54,367.72 L182.95,367.82 L184.36,367.91 L185.77,368.01 L187.19,368.10 L188.60,368.19 L190.01,368.28 L191.42,368.37 L192.83,368.46 L194.25,368.55 L195.66,368.64 L197.07,368.72 L198.48,368.81 L199.89,368.90 L201.31,368.98 L202.72,369.06 L204.13,369.15 L205.54,369.23 L206.95,369.31 L208.37,369.40 L209.78,369.48 L211.19,369.56 L212.60,369.64 L214.01,369.72 L215.43,369.80 L216.84,369.88 L218.25,369.96 L219.66,370.03 L221.07,370.11 L222.49,370.18 L223.90,370.26 L225.31,370.33 L226.72,370.40 L228.13,370.48 L229.55,370.55 L230.96,370.62 L232.37,370.69 L233.78,370.75 L235.19,370.82 L236.61,370.88 L238.02,370.95 L239.43,371.01 L240.84,371.07 L242.25,371.13 L243.67,371.19 L245.08,371.25 L246.49,371.30 L247.90,371.36 L249.31,371.41 L250.73,371.47 L252.14,371.52 L253.55,371.57 L254.96,371.61 L256.37,371.66 L257.79,371.71 L259.20,371.75 L260.61,371.79 L262.02,371.84 L263.43,371.88" fill="none" stroke="#ffc8ee" stroke-width="7" stroke-linejoin="round" opacity="0.3"/>
<path d="M67.17,350.82 L68.58,350.31 L69.99,349.81 L71.40,349.32 L72.81,348.86 L74.23,348.41 L75.64,347.98 L77.05,347.58 L78.46,347.20 L79.87,346.84 L81.29,346.51 L82.70,346.20 L84.11,345.93 L85.52,345.68 L86.93,345.46 L88.35,345.27 L89.76,345.11 L91.17,344.99 L92.58,344.90 L93.99,344.83 L95.41,344.80 L96.82,344.77 L98.23,344.75 L99.64,344.78 L101.05,344.84 L102.47,344.95 L103.88,345.09 L105.29,345.27 L106.70,345.48 L108.11,345.73 L109.53,346.01 L110.94,346.31 L112.35,346.65 L113.76,347.01 L115.17,347.40 L116.59,347.80 L118.00,348.23 L119.41,348.67 L120.82,349.12 L122.23,349.59 L123.65,350.06 L125.06,350.54 L126.47,351.03 L127.88,351.52 L129.29,352.01 L130.71,352.50 L132.12,352.99 L133.53,353.47 L134.94,353.95 L136.35,354.42 L137.77,354.88 L139.18,355.33 L140.59,355.78 L142.00,356.21 L143.41,356.63 L144.83,357.03 L146.24,357.43 L147.65,357.81 L149.06,358.18 L150.47,358.54 L151.89,358.89 L153.30,359.22 L154.71,359.54 L156.12,359.84 L157.53,360.14 L158.95,360.42 L160.36,360.69 L161.77,360.96 L163.18,361.21 L164.59,361.45 L166.01,361.68 L167.42,361.91 L168.83,362.13 L170.24,362.34 L171.65,362.54 L173.07,362.74 L174.48,362.93 L175.89,363.11 L177.30,363.29 L178.71,363.47 L180.13,363.64 L181.54,363.81 L182.95,363.97 L184.36,364.14 L185.77,364.30 L187.19,364.46 L188.60,364.61 L190.01,364.77 L191.42,364.92 L192.83,365.07 L194.25,365.22 L195.66,365.37 L197.07,365.51 L198.48,365.66 L199.89,365.81 L201.31,365.95 L202.72,366.10 L204.13,366.24 L205.54,366.38 L206.95,366.53 L208.37,366.67 L209.78,366.81 L211.19,366.95 L212.60,367.09 L214.01,367.22 L215.43,367.36 L216.84,367.50 L218.25,367.63 L219.66,367.77 L221.07,367.90 L222.49,368.03 L223.90,368.16 L225.31,368.29 L226.72,368.41 L228.13,368.54 L229.55,368.66 L230.96,368.79 L232.37,368.91 L233.78,369.02 L235.19,369.14 L236.61,369.26 L238.02,369.37 L239.43,369.48 L240.84,369.59 L242.25,369.69 L243.67,369.80 L245.08,369.90 L246.49,370.00 L247.90,370.10 L249.31,370.20 L250.73,370.29 L252.14,370.38 L253.55,370.47 L254.96,370.56 L256.37,370.64 L257.79,370.73 L259.20,370.81 L260.61,370.89 L262.02,370.96 L263.43,371.04" fill="none" stroke="#ffc8ee" stroke-width="7" stroke-linejoin="round" opacity="0.3"/>
<path d="M67.17,346.57 L68.58,345.92 L69.99,345.29 L71.40,344.67 L72.81,344.08 L74.23,343.51 L75.64,342.97 L77.05,342.45 L78.46,341.97 L79.87,341.51 L81.29,341.09 L82.70,340.70 L84.11,340.35 L85.52,340.03 L86.93,339.75 L88.35,339.51 L89.76,339.31 L91.17,339.15 L92.58,339.03 L93.99,338.95 L95.41,338.91 L96.82,338.87 L98.23,338.85 L99.64,338.88 L101.05,338.96 L102.47,339.08 L103.88,339.25 L105.29,339.47 L106.70,339.73 L108.11,340.03 L109.53,340.36 L110.94,340.74 L112.35,341.15 L113.76,341.58 L115.17,342.05 L116.59,342.54 L118.00,343.05 L119.41,343.59 L120.82,344.14 L122.23,344.70 L123.65,345.28 L125.06,345.86 L126.47,346.45 L127.88,347.04 L129.29,347.64 L130.71,348.23 L132.12,348.82 L133.53,349.40 L134.94,349.98 L136.35,350.55 L137.77,351.11 L139.18,351.66 L140.59,352.19 L142.00,352.71 L143.41,353.22 L144.83,353.72 L146.24,354.19 L147.65,354.66 L149.06,355.11 L150.47,355.54 L151.89,355.96 L153.30,356.36 L154.71,356.74 L156.12,357.12 L157.53,357.47 L158.95,357.82 L160.36,358.15 L161.77,358.46 L163.18,358.77 L164.59,359.06 L166.01,359.34 L167.42,359.62 L168.83,359.88 L170.24,360.13 L171.65,360.38 L173.07,360.62 L174.48,360.85 L175.89,361.07 L177.30,361.29 L178.71,361.50 L180.13,361.71 L181.54,361.92 L182.95,362.12 L184.36,362.31 L185.77,362.51 L187.19,362.70 L188.60,362.89 L190.01,363.07 L191.42,363.26 L192.83,363.44 L194.25,363.62 L195.66,363.80 L197.07,363.98 L198.48,364.16 L199.89,364.34 L201.31,364.51 L202.72,364.69 L204.13,364.86 L205.54,365.03 L206.95,365.20 L208.37,365.38 L209.78,365.55 L211.19,365.72 L212.60,365.88 L214.01,366.05 L215.43,366.22 L216.84,366.38 L218.25,366.54 L219.66,366.71 L221.07,366.87 L222.49,367.02 L223.90,367.18 L225.31,367.34 L226.72,367.49 L228.13,367.64 L229.55,367.79 L230.96,367.94 L232.37,368.09 L233.78,368.23 L235.19,368.37 L236.61,368.51 L238.02,368.65 L239.43,368.78 L240.84,368.91 L242.25,369.04 L243.67,369.17 L245.08,369.29 L246.49,369.41 L247.90,369.53 L249.31,369.65 L250.73,369.76 L252.14,369.87 L253.55,369.98 L254.96,370.09 L256.37,370.19 L257.79,370.29 L259.20,370.39 L260.61,370.48 L262.02,370.57 L263.43,370.66" fill="none" stroke="#ffc8ee" stroke-width="7" stroke-linejoin="round" opacity="0.3"/>
<path d="M67.17,337.70 L68.58,336.73 L69.99,335.79 L71.40,334.87 L72.81,333.98 L74.23,333.13 L75.64,332.31 L77.05,331.53 L78.46,330.80 L79.87,330.11 L81.29,329.46 L82.70,328.87 L84.11,328.33 L85.52,327.85 L86.93,327.42 L88.35,327.06 L89.76,326.75 L91.17,326.50 L92.58,326.32 L93.99,326.20 L95.41,326.14 L96.82,326.09 L98.23,326.06 L99.64,326.10 L101.05,326.20 L102.47,326.37 L103.88,326.60 L105.29,326.89 L106.70,327.23 L108.11,327.63 L109.53,328.09 L110.94,328.59 L112.35,329.13 L113.76,329.72 L115.17,330.34 L116.59,331.00 L118.00,331.69 L119.41,332.41 L120.82,333.15 L122.23,333.91 L123.65,334.68 L125.06,335.46 L126.47,336.26 L127.88,337.06 L129.29,337.86 L130.71,338.66 L132.12,339.45 L133.53,340.24 L134.94,341.02 L136.35,341.79 L137.77,342.55 L139.18,343.29 L140.59,344.02 L142.00,344.73 L143.41,345.42 L144.83,346.09 L146.24,346.74 L147.65,347.37 L149.06,347.98 L150.47,348.57 L151.89,349.14 L153.30,349.69 L154.71,350.22 L156.12,350.72 L157.53,351.21 L158.95,351.68 L160.36,352.13 L161.77,352.57 L163.18,352.99 L164.59,353.39 L166.01,353.78 L167.42,354.15 L168.83,354.51 L170.24,354.86 L171.65,355.20 L173.07,355.53 L174.48,355.85 L175.89,356.16 L177.30,356.46 L178.71,356.75 L180.13,357.04 L181.54,357.32 L182.95,357.60 L184.36,357.87 L185.77,358.14 L187.19,358.40 L188.60,358.66 L190.01,358.92 L191.42,359.18 L192.83,359.43 L194.25,359.68 L195.66,359.93 L197.07,360.18 L198.48,360.43 L199.89,360.67 L201.31,360.92 L202.72,361.16 L204.13,361.41 L205.54,361.65 L206.95,361.89 L208.37,362.13 L209.78,362.36 L211.19,362.60 L212.60,362.83 L214.01,363.07 L215.43,363.30 L216.84,363.53 L218.25,363.76 L219.66,363.99 L221.07,364.21 L222.49,364.44 L223.90,364.66 L225.31,364.88 L226.72,365.09 L228.13,365.31 L229.55,365.52 L230.96,365.73 L232.37,365.93 L233.78,366.14 L235.19,366.34 L236.61,366.53 L238.02,366.73 L239.43,366.92 L240.84,367.10 L242.25,367.29 L243.67,367.47 L245.08,367.65 L246.49,367.82 L247.90,367.99 L249.31,368.16 L250.73,368.32 L252.14,368.48 L253.55,368.63 L254.96,368.78 L256.37,368.93 L257.79,369.08 L259.20,369.22 L260.61,369.35 L262.02,369.49 L263.43,369.62" fill="none" stroke="#ffc8ee" stroke-width="7" stroke-linejoin="round" opacity="0.3"/>
<path d="M67.17,327.72 L68.58,326.16 L69.99,324.63 L71.40,323.13 L72.81,321.68 L74.23,320.27 L75.64,318.91 L77.05,317.61 L78.46,316.38 L79.87,315.22 L81.29,314.14 L82.70,313.14 L84.11,312.22 L85.52,311.40 L86.93,310.67 L88.35,310.04 L89.76,309.51 L91.17,309.08 L92.58,308.77 L93.99,308.56 L95.41,308.46 L96.82,308.39 L98.23,308.35 L99.64,308.40 L101.05,308.54 L102.47,308.77 L103.88,309.08 L105.29,309.47 L106.70,309.94 L108.11,310.48 L109.53,311.09 L110.94,311.77 L112.35,312.51 L113.76,313.30 L115.17,314.15 L116.59,315.04 L118.00,315.97 L119.41,316.94 L120.82,317.95 L122.23,318.97 L123.65,320.02 L125.06,321.09 L126.47,322.17 L127.88,323.25 L129.29,324.34 L130.71,325.43 L132.12,326.51 L133.53,327.59 L134.94,328.65 L136.35,329.70 L137.77,330.73 L139.18,331.74 L140.59,332.73 L142.00,333.70 L143.41,334.65 L144.83,335.56 L146.24,336.45 L147.65,337.32 L149.06,338.15 L150.47,338.96 L151.89,339.74 L153.30,340.49 L154.71,341.21 L156.12,341.91 L157.53,342.58 L158.95,343.22 L160.36,343.85 L161.77,344.44 L163.18,345.02 L164.59,345.57 L166.01,346.10 L167.42,346.62 L168.83,347.12 L170.24,347.60 L171.65,348.06 L173.07,348.51 L174.48,348.95 L175.89,349.38 L177.30,349.80 L178.71,350.20 L180.13,350.60 L181.54,350.99 L182.95,351.37 L184.36,351.75 L185.77,352.12 L187.19,352.48 L188.60,352.85 L190.01,353.20 L191.42,353.56 L192.83,353.91 L194.25,354.26 L195.66,354.60 L197.07,354.95 L198.48,355.29 L199.89,355.63 L201.31,355.97 L202.72,356.31 L204.13,356.65 L205.54,356.98 L206.95,357.32 L208.37,357.65 L209.78,357.98 L211.19,358.31 L212.60,358.64 L214.01,358.96 L215.43,359.29 L216.84,359.61 L218.25,359.93 L219.66,360.24 L221.07,360.56 L222.49,360.87 L223.90,361.18 L225.31,361.49 L226.72,361.79 L228.13,362.09 L229.55,362.39 L230.96,362.68 L232.37,362.97 L233.78,363.25 L235.19,363.53 L236.61,363.81 L238.02,364.08 L239.43,364.35 L240.84,364.62 L242.25,364.87 L243.67,365.13 L245.08,365.38 L246.49,365.62 L247.90,365.86 L249.31,366.10 L250.73,366.33 L252.14,366.55 L253.55,366.77 L254.96,366.99 L256.37,367.20 L257.79,367.41 L259.20,367.61 L260.61,367.80 L262.02,367.99 L263.43,368.17" fill="none" stroke="#ffc8ee" stroke-width="7" stroke-linejoin="round" opacity="0.3"/>
<path d="M67.17,308.80 L68.58,306.58 L69.99,304.41 L71.40,302.28 L72.81,300.21 L74.23,298.21 L75.64,296.28 L77.05,294.44 L78.46,292.69 L79.87,291.05 L81.29,289.51 L82.70,288.08 L84.11,286.79 L85.52,285.62 L86.93,284.58 L88.35,283.69 L89.76,282.94 L91.17,282.33 L92.58,281.88 L93.99,281.59 L95.41,281.45 L96.82,281.34 L98.23,281.29 L99.64,281.36 L101.05,281.56 L102.47,281.88 L103.88,282.32 L105.29,282.88 L106.70,283.54 L108.11,284.31 L109.53,285.18 L110.94,286.14 L112.35,287.19 L113.76,288.32 L115.17,289.52 L116.59,290.79 L118.00,292.12 L119.41,293.49 L120.82,294.92 L122.23,296.38 L123.65,297.87 L125.06,299.38 L126.47,300.91 L127.88,302.45 L129.29,304.00 L130.71,305.54 L132.12,307.08 L133.53,308.60 L134.94,310.11 L136.35,311.60 L137.77,313.07 L139.18,314.51 L140.59,315.91 L142.00,317.29 L143.41,318.63 L144.83,319.93 L146.24,321.19 L147.65,322.42 L149.06,323.60 L150.47,324.75 L151.89,325.86 L153.30,326.92 L154.71,327.95 L156.12,328.94 L157.53,329.89 L158.95,330.81 L160.36,331.69 L161.77,332.54 L163.18,333.35 L164.59,334.14 L166.01,334.90 L167.42,335.63 L168.83,336.33 L170.24,337.02 L171.65,337.68 L173.07,338.32 L174.48,338.94 L175.89,339.55 L177.30,340.14 L178.71,340.71 L180.13,341.28 L181.54,341.83 L182.95,342.37 L184.36,342.91 L185.77,343.44 L187.19,343.95 L188.60,344.47 L190.01,344.98 L191.42,345.48 L192.83,345.98 L194.25,346.47 L195.66,346.96 L197.07,347.45 L198.48,347.94 L199.89,348.42 L201.31,348.91 L202.72,349.39 L204.13,349.86 L205.54,350.34 L206.95,350.81 L208.37,351.29 L209.78,351.76 L211.19,352.22 L212.60,352.69 L214.01,353.15 L215.43,353.61 L216.84,354.07 L218.25,354.52 L219.66,354.97 L221.07,355.42 L222.49,355.86 L223.90,356.30 L225.31,356.74 L226.72,357.17 L228.13,357.59 L229.55,358.01 L230.96,358.43 L232.37,358.84 L233.78,359.24 L235.19,359.64 L236.61,360.04 L238.02,360.42 L239.43,360.80 L240.84,361.18 L242.25,361.55 L243.67,361.91 L245.08,362.26 L246.49,362.61 L247.90,362.95 L249.31,363.29 L250.73,363.61 L252.14,363.93 L253.55,364.25 L254.96,364.55 L256.37,364.85 L257.79,365.14 L259.20,365.42 L260.61,365.70 L262.02,365.97 L263.43,366.23" fill="none" stroke="#ffc8ee" stroke-width="7" stroke-linejoin="round" opacity="0.3"/>
<path d="M67.17,302.61 L68.58,300.18 L69.99,297.79 L71.40,295.46 L72.81,293.19 L74.23,290.99 L75.64,288.88 L77.05,286.86 L78.46,284.94 L79.87,283.13 L81.29,281.45 L82.70,279.89 L84.11,278.46 L85.52,277.18 L86.93,276.04 L88.35,275.06 L89.76,274.24 L91.17,273.58 L92.58,273.09 L93.99,272.76 L95.41,272.61 L96.82,272.49 L98.23,272.43 L99.64,272.51 L101.05,272.73 L102.47,273.09 L103.88,273.57 L105.29,274.18 L106.70,274.91 L108.11,275.75 L109.53,276.70 L110.94,277.76 L112.35,278.91 L113.76,280.15 L115.17,281.46 L116.59,282.85 L118.00,284.31 L119.41,285.82 L120.82,287.38 L122.23,288.98 L123.65,290.61 L125.06,292.27 L126.47,293.95 L127.88,295.64 L129.29,297.34 L130.71,299.03 L132.12,300.72 L133.53,302.39 L134.94,304.05 L136.35,305.68 L137.77,307.29 L139.18,308.86 L140.59,310.41 L142.00,311.92 L143.41,313.38 L144.83,314.81 L146.24,316.20 L147.65,317.54 L149.06,318.84 L150.47,320.10 L151.89,321.31 L153.30,322.48 L154.71,323.61 L156.12,324.69 L157.53,325.74 L158.95,326.74 L160.36,327.71 L161.77,328.64 L163.18,329.54 L164.59,330.40 L166.01,331.23 L167.42,332.03 L168.83,332.80 L170.24,333.55 L171.65,334.28 L173.07,334.98 L174.48,335.66 L175.89,336.33 L177.30,336.98 L178.71,337.61 L180.13,338.23 L181.54,338.83 L182.95,339.43 L184.36,340.02 L185.77,340.59 L187.19,341.16 L188.60,341.73 L190.01,342.28 L191.42,342.83 L192.83,343.38 L194.25,343.92 L195.66,344.46 L197.07,345.00 L198.48,345.53 L199.89,346.07 L201.31,346.59 L202.72,347.12 L204.13,347.65 L205.54,348.17 L206.95,348.69 L208.37,349.20 L209.78,349.72 L211.19,350.23 L212.60,350.74 L214.01,351.25 L215.43,351.76 L216.84,352.26 L218.25,352.75 L219.66,353.25 L221.07,353.74 L222.49,354.22 L223.90,354.71 L225.31,355.18 L226.72,355.65 L228.13,356.12 L229.55,356.58 L230.96,357.04 L232.37,357.49 L233.78,357.93 L235.19,358.37 L236.61,358.80 L238.02,359.23 L239.43,359.64 L240.84,360.05 L242.25,360.46 L243.67,360.85 L245.08,361.24 L246.49,361.62 L247.90,362.00 L249.31,362.37 L250.73,362.72 L252.14,363.07 L253.55,363.42 L254.96,363.75 L256.37,364.08 L257.79,364.40 L259.20,364.71 L260.61,365.01 L262.02,365.31 L263.43,365.60" fill="none" stroke="#ffc8ee" stroke-width="7" stroke-linejoin="round" opacity="0.3"/>
<path d="M67.17,288.84 L68.58,285.94 L69.99,283.08 L71.40,280.29 L72.81,277.58 L74.23,274.95 L75.64,272.42 L77.05,270.01 L78.46,267.71 L79.87,265.55 L81.29,263.53 L82.70,261.67 L84.11,259.96 L85.52,258.43 L86.93,257.07 L88.35,255.90 L89.76,254.91 L91.17,254.12 L92.58,253.53 L93.99,253.15 L95.41,252.96 L96.82,252.82 L98.23,252.75 L99.64,252.85 L101.05,253.11 L102.47,253.53 L103.88,254.11 L105.29,254.84 L106.70,255.71 L108.11,256.72 L109.53,257.86 L110.94,259.12 L112.35,260.50 L113.76,261.98 L115.17,263.55 L116.59,265.22 L118.00,266.96 L119.41,268.76 L120.82,270.63 L122.23,272.54 L123.65,274.50 L125.06,276.48 L126.47,278.49 L127.88,280.51 L129.29,282.54 L130.71,284.57 L132.12,286.58 L133.53,288.59 L134.94,290.57 L136.35,292.52 L137.77,294.44 L139.18,296.33 L140.59,298.17 L142.00,299.98 L143.41,301.73 L144.83,303.44 L146.24,305.10 L147.65,306.71 L149.06,308.26 L150.47,309.77 L151.89,311.22 L153.30,312.62 L154.71,313.96 L156.12,315.26 L157.53,316.51 L158.95,317.71 L160.36,318.87 L161.77,319.98 L163.18,321.05 L164.59,322.08 L166.01,323.08 L167.42,324.04 L168.83,324.96 L170.24,325.86 L171.65,326.73 L173.07,327.57 L174.48,328.38 L175.89,329.18 L177.30,329.95 L178.71,330.71 L180.13,331.45 L181.54,332.17 L182.95,332.89 L184.36,333.59 L185.77,334.28 L187.19,334.96 L188.60,335.63 L190.01,336.30 L191.42,336.96 L192.83,337.61 L194.25,338.26 L195.66,338.91 L197.07,339.55 L198.48,340.19 L199.89,340.82 L201.31,341.46 L202.72,342.09 L204.13,342.71 L205.54,343.34 L206.95,343.96 L208.37,344.58 L209.78,345.19 L211.19,345.81 L212.60,346.42 L214.01,347.03 L215.43,347.63 L216.84,348.23 L218.25,348.82 L219.66,349.41 L221.07,350.00 L222.49,350.58 L223.90,351.16 L225.31,351.73 L226.72,352.29 L228.13,352.85 L229.55,353.40 L230.96,353.95 L232.37,354.49 L233.78,355.02 L235.19,355.54 L236.61,356.06 L238.02,356.56 L239.43,357.06 L240.84,357.55 L242.25,358.04 L243.67,358.51 L245.08,358.98 L246.49,359.43 L247.90,359.88 L249.31,360.32 L250.73,360.75 L252.14,361.17 L253.55,361.58 L254.96,361.98 L256.37,362.37 L257.79,362.75 L259.20,363.12 L260.61,363.49 L262.02,363.84 L263.43,364.18" fill="none" stroke="#ffc8ee" stroke-width="7" stroke-linejoin="round" opacity="0.3"/>
<path d="M67.17,361.10 L68.58,360.70 L69.99,360.30 L71.40,359.91 L72.81,359.53 L74.23,359.17 L75.64,358.81 L77.05,358.48 L78.46,358.16 L79.87,357.86 L81.29,357.57 L82.70,357.31 L84.11,357.08 L85.52,356.86 L86.93,356.67 L88.35,356.51 L89.76,356.37 L91.17,356.26 L92.58,356.18 L93.99,356.13 L95.41,356.10 L96.82,356.08 L98.23,356.07 L99.64,356.08 L101.05,356.12 L102.47,356.19 L103.88,356.28 L105.29,356.39 L106.70,356.52 L108.11,356.68 L109.53,356.85 L110.94,357.04 L112.35,357.25 L113.76,357.48 L115.17,357.72 L116.59,357.97 L118.00,358.23 L119.41,358.51 L120.82,358.79 L122.23,359.08 L123.65,359.37 L125.06,359.67 L126.47,359.97 L127.88,360.27 L129.29,360.57 L130.71,360.88 L132.12,361.18 L133.53,361.47 L134.94,361.76 L136.35,362.05 L137.77,362.34 L139.18,362.61 L140.59,362.88 L142.00,363.15 L143.41,363.40 L144.83,363.65 L146.24,363.89 L147.65,364.12 L149.06,364.35 L150.47,364.56 L151.89,364.77 L153.30,364.97 L154.71,365.16 L156.12,365.35 L157.53,365.53 L158.95,365.70 L160.36,365.86 L161.77,366.02 L163.18,366.17 L164.59,366.32 L166.01,366.46 L167.42,366.59 L168.83,366.72 L170.24,366.84 L171.65,366.97 L173.07,367.08 L174.48,367.20 L175.89,367.31 L177.30,367.41 L178.71,367.52 L180.13,367.62 L181.54,367.72 L182.95,367.82 L184.36,367.91 L185.77,368.01 L187.19,368.10 L188.60,368.19 L190.01,368.28 L191.42,368.37 L192.83,368.46 L194.25,368.55 L195.66,368.64 L197.07,368.72 L198.48,368.81 L199.89,368.90 L201.31,368.98 L202.72,369.06 L204.13,369.15 L205.54,369.23 L206.95,369.31 L208.37,369.40 L209.78,369.48 L211.19,369.56 L212.60,369.64 L214.01,369.72 L215.43,369.80 L216.84,369.88 L218.25,369.96 L219.66,370.03 L221.07,370.11 L222.49,370.18 L223.90,370.26 L225.31,370.33 L226.72,370.40 L228.13,370.48 L229.55,370.55 L230.96,370.62 L232.37,370.69 L233.78,370.75 L235.19,370.82 L236.61,370.88 L238.02,370.95 L239.43,371.01 L240.84,371.07 L242.25,371.13 L243.67,371.19 L245.08,371.25 L246.49,371.30 L247.90,371.36 L249.31,371.41 L250.73,371.47 L252.14,371.52 L253.55,371.57 L254.96,371.61 L256.37,371.66 L257.79,371.71 L259.20,371.75 L260.61,371.79 L262.02,371.84 L263.43,371.88" fill="none" stroke="#111111" stroke-width="2.0" stroke-linejoin="round" />
<path d="M67.17,350.82 L68.58,350.31 L69.99,349.81 L71.40,349.32 L72.81,348.86 L74.23,348.41 L75.64,347.98 L77.05,347.58 L78.46,347.20 L79.87,346.84 L81.29,346.51 L82.70,346.20 L84.11,345.93 L85.52,345.68 L86.93,345.46 L88.35,345.27 L89.76,345.11 L91.17,344.99 L92.58,344.90 L93.99,344.83 L95.41,344.80 L96.82,344.77 L98.23,344.75 L99.64,344.78 L101.05,344.84 L102.47,344.95 L103.88,345.09 L105.29,345.27 L106.70,345.48 L108.11,345.73 L109.53,346.01 L110.94,346.31 L112.35,346.65 L113.76,347.01 L115.17,347.40 L116.59,347.80 L118.00,348.23 L119.41,348.67 L120.82,349.12 L122.23,349.59 L123.65,350.06 L125.06,350.54 L126.47,351.03 L127.88,351.52 L129.29,352.01 L130.71,352.50 L132.12,352.99 L133.53,353.47 L134.94,353.95 L136.35,354.42 L137.77,354.88 L139.18,355.33 L140.59,355.78 L142.00,356.21 L143.41,356.63 L144.83,357.03 L146.24,357.43 L147.65,357.81 L149.06,358.18 L150.47,358.54 L151.89,358.89 L153.30,359.22 L154.71,359.54 L156.12,359.84 L157.53,360.14 L158.95,360.42 L160.36,360.69 L161.77,360.96 L163.18,361.21 L164.59,361.45 L166.01,361.68 L167.42,361.91 L168.83,362.13 L170.24,362.34 L171.65,362.54 L173.07,362.74 L174.48,362.93 L175.89,363.11 L177.30,363.29 L178.71,363.47 L180.13,363.64 L181.54,363.81 L182.95,363.97 L184.36,364.14 L185.77,364.30 L187.19,364.46 L188.60,364.61 L190.01,364.77 L191.42,364.92 L192.83,365.07 L194.25,365.22 L195.66,365.37 L197.07,365.51 L198.48,365.66 L199.89,365.81 L201.31,365.95 L202.72,366.10 L204.13,366.24 L205.54,366.38 L206.95,366.53 L208.37,366.67 L209.78,366.81 L211.19,366.95 L212.60,367.09 L214.01,367.22 L215.43,367.36 L216.84,367.50 L218.25,367.63 L219.66,367.77 L221.07,367.90 L222.49,368.03 L223.90,368.16 L225.31,368.29 L226.72,368.41 L228.13,368.54 L229.55,368.66 L230.96,368.79 L232.37,368.91 L233.78,369.02 L235.19,369.14 L236.61,369.26 L238.02,369.37 L239.43,369.48 L240.84,369.59 L242.25,369.69 L243.67,369.80 L245.08,369.90 L246.49,370.00 L247.90,370.10 L249.31,370.20 L250.73,370.29 L252.14,370.38 L253.55,370.47 L254.96,370.56 L256.37,370.64 L257.79,370.73 L259.20,370.81 L260.61,370.89 L262.02,370.96 L263.43,371.04" fill="none" stroke="#78a8e8" stroke-width="2.0" stroke-linejoin="round" />
<path d="M67.17,346.57 L68.58,345.92 L69.99,345.29 L71.40,344.67 L72.81,344.08 L74.23,343.51 L75.64,342.97 L77.05,342.45 L78.46,341.97 L79.87,341.51 L81.29,341.09 L82.70,340.70 L84.11,340.35 L85.52,340.03 L86.93,339.75 L88.35,339.51 L89.76,339.31 L91.17,339.15 L92.58,339.03 L93.99,338.95 L95.41,338.91 L96.82,338.87 L98.23,338.85 L99.64,338.88 L101.05,338.96 L102.47,339.08 L103.88,339.25 L105.29,339.47 L106.70,339.73 L108.11,340.03 L109.53,340.36 L110.94,340.74 L112.35,341.15 L113.76,341.58 L115.17,342.05 L116.59,342.54 L118.00,343.05 L119.41,343.59 L120.82,344.14 L122.23,344.70 L123.65,345.28 L125.06,345.86 L126.47,346.45 L127.88,347.04 L129.29,347.64 L130.71,348.23 L132.12,348.82 L133.53,349.40 L134.94,349.98 L136.35,350.55 L137.77,351.11 L139.18,351.66 L140.59,352.19 L142.00,352.71 L143.41,353.22 L144.83,353.72 L146.24,354.19 L147.65,354.66 L149.06,355.11 L150.47,355.54 L151.89,355.96 L153.30,356.36 L154.71,356.74 L156.12,357.12 L157.53,357.47 L158.95,357.82 L160.36,358.15 L161.77,358.46 L163.18,358.77 L164.59,359.06 L166.01,359.34 L167.42,359.62 L168.83,359.88 L170.24,360.13 L171.65,360.38 L173.07,360.62 L174.48,360.85 L175.89,361.07 L177.30,361.29 L178.71,361.50 L180.13,361.71 L181.54,361.92 L182.95,362.12 L184.36,362.31 L185.77,362.51 L187.19,362.70 L188.60,362.89 L190.01,363.07 L191.42,363.26 L192.83,363.44 L194.25,363.62 L195.66,363.80 L197.07,363.98 L198.48,364.16 L199.89,364.34 L201.31,364.51 L202.72,364.69 L204.13,364.86 L205.54,365.03 L206.95,365.20 L208.37,365.38 L209.78,365.55 L211.19,365.72 L212.60,365.88 L214.01,366.05 L215.43,366.22 L216.84,366.38 L218.25,366.54 L219.66,366.71 L221.07,366.87 L222.49,367.02 L223.90,367.18 L225.31,367.34 L226.72,367.49 L228.13,367.64 L229.55,367.79 L230.96,367.94 L232.37,368.09 L233.78,368.23 L235.19,368.37 L236.61,368.51 L238.02,368.65 L239.43,368.78 L240.84,368.91 L242.25,369.04 L243.67,369.17 L245.08,369.29 L246.49,369.41 L247.90,369.53 L249.31,369.65 L250.73,369.76 L252.14,369.87 L253.55,369.98 L254.96,370.09 L256.37,370.19 L257.79,370.29 L259.20,370.39 L260.61,370.48 L262.02,370.57 L263.43,370.66" fill="none" stroke="#b4aa3a" stroke-width="2.0" stroke-linejoin="round" />
<path d="M67.17,337.70 L68.58,336.73 L69.99,335.79 L71.40,334.87 L72.81,333.98 L74.23,333.13 L75.64,332.31 L77.05,331.53 L78.46,330.80 L79.87,330.11 L81.29,329.46 L82.70,328.87 L84.11,328.33 L85.52,327.85 L86.93,327.42 L88.35,327.06 L89.76,326.75 L91.17,326.50 L92.58,326.32 L93.99,326.20 L95.41,326.14 L96.82,326.09 L98.23,326.06 L99.64,326.10 L101.05,326.20 L102.47,326.37 L103.88,326.60 L105.29,326.89 L106.70,327.23 L108.11,327.63 L109.53,328.09 L110.94,328.59 L112.35,329.13 L113.76,329.72 L115.17,330.34 L116.59,331.00 L118.00,331.69 L119.41,332.41 L120.82,333.15 L122.23,333.91 L123.65,334.68 L125.06,335.46 L126.47,336.26 L127.88,337.06 L129.29,337.86 L130.71,338.66 L132.12,339.45 L133.53,340.24 L134.94,341.02 L136.35,341.79 L137.77,342.55 L139.18,343.29 L140.59,344.02 L142.00,344.73 L143.41,345.42 L144.83,346.09 L146.24,346.74 L147.65,347.37 L149.06,347.98 L150.47,348.57 L151.89,349.14 L153.30,349.69 L154.71,350.22 L156.12,350.72 L157.53,351.21 L158.95,351.68 L160.36,352.13 L161.77,352.57 L163.18,352.99 L164.59,353.39 L166.01,353.78 L167.42,354.15 L168.83,354.51 L170.24,354.86 L171.65,355.20 L173.07,355.53 L174.48,355.85 L175.89,356.16 L177.30,356.46 L178.71,356.75 L180.13,357.04 L181.54,357.32 L182.95,357.60 L184.36,357.87 L185.77,358.14 L187.19,358.40 L188.60,358.66 L190.01,358.92 L191.42,359.18 L192.83,359.43 L194.25,359.68 L195.66,359.93 L197.07,360.18 L198.48,360.43 L199.89,360.67 L201.31,360.92 L202.72,361.16 L204.13,361.41 L205.54,361.65 L206.95,361.89 L208.37,362.13 L209.78,362.36 L211.19,362.60 L212.60,362.83 L214.01,363.07 L215.43,363.30 L216.84,363.53 L218.25,363.76 L219.66,363.99 L221.07,364.21 L222.49,364.44 L223.90,364.66 L225.31,364.88 L226.72,365.09 L228.13,365.31 L229.55,365.52 L230.96,365.73 L232.37,365.93 L233.78,366.14 L235.19,366.34 L236.61,366.53 L238.02,366.73 L239.43,366.92 L240.84,367.10 L242.25,367.29 L243.67,367.47 L245.08,367.65 L246.49,367.82 L247.90,367.99 L249.31,368.16 L250.73,368.32 L252.14,368.48 L253.55,368.63 L254.96,368.78 L256.37,368.93 L257.79,369.08 L259.20,369.22 L260.61,369.35 L262.02,369.49 L263.43,369.62" fill="none" stroke="#b890dc" stroke-width="2.0" stroke-linejoin="round" />
<path d="M67.17,327.72 L68.58,326.16 L69.99,324.63 L71.40,323.13 L72.81,321.68 L74.23,320.27 L75.64,318.91 L77.05,317.61 L78.46,316.38 L79.87,315.22 L81.29,314.14 L82.70,313.14 L84.11,312.22 L85.52,311.40 L86.93,310.67 L88.35,310.04 L89.76,309.51 L91.17,309.08 L92.58,308.77 L93.99,308.56 L95.41,308.46 L96.82,308.39 L98.23,308.35 L99.64,308.40 L101.05,308.54 L102.47,308.77 L103.88,309.08 L105.29,309.47 L106.70,309.94 L108.11,310.48 L109.53,311.09 L110.94,311.77 L112.35,312.51 L113.76,313.30 L115.17,314.15 L116.59,315.04 L118.00,315.97 L119.41,316.94 L120.82,317.95 L122.23,318.97 L123.65,320.02 L125.06,321.09 L126.47,322.17 L127.88,323.25 L129.29,324.34 L130.71,325.43 L132.12,326.51 L133.53,327.59 L134.94,328.65 L136.35,329.70 L137.77,330.73 L139.18,331.74 L140.59,332.73 L142.00,333.70 L143.41,334.65 L144.83,335.56 L146.24,336.45 L147.65,337.32 L149.06,338.15 L150.47,338.96 L151.89,339.74 L153.30,340.49 L154.71,341.21 L156.12,341.91 L157.53,342.58 L158.95,343.22 L160.36,343.85 L161.77,344.44 L163.18,345.02 L164.59,345.57 L166.01,346.10 L167.42,346.62 L168.83,347.12 L170.24,347.60 L171.65,348.06 L173.07,348.51 L174.48,348.95 L175.89,349.38 L177.30,349.80 L178.71,350.20 L180.13,350.60 L181.54,350.99 L182.95,351.37 L184.36,351.75 L185.77,352.12 L187.19,352.48 L188.60,352.85 L190.01,353.20 L191.42,353.56 L192.83,353.91 L194.25,354.26 L195.66,354.60 L197.07,354.95 L198.48,355.29 L199.89,355.63 L201.31,355.97 L202.72,356.31 L204.13,356.65 L205.54,356.98 L206.95,357.32 L208.37,357.65 L209.78,357.98 L211.19,358.31 L212.60,358.64 L214.01,358.96 L215.43,359.29 L216.84,359.61 L218.25,359.93 L219.66,360.24 L221.07,360.56 L222.49,360.87 L223.90,361.18 L225.31,361.49 L226.72,361.79 L228.13,362.09 L229.55,362.39 L230.96,362.68 L232.37,362.97 L233.78,363.25 L235.19,363.53 L236.61,363.81 L238.02,364.08 L239.43,364.35 L240.84,364.62 L242.25,364.87 L243.67,365.13 L245.08,365.38 L246.49,365.62 L247.90,365.86 L249.31,366.10 L250.73,366.33 L252.14,366.55 L253.55,366.77 L254.96,366.99 L256.37,367.20 L257.79,367.41 L259.20,367.61 L260.61,367.80 L262.02,367.99 L263.43,368.17" fill="none" stroke="#5a2a7a" stroke-width="2.0" stroke-linejoin="round" />
<path d="M67.17,308.80 L68.58,306.58 L69.99,304.41 L71.40,302.28 L72.81,300.21 L74.23,298.21 L75.64,296.28 L77.05,294.44 L78.46,292.69 L79.87,291.05 L81.29,289.51 L82.70,288.08 L84.11,286.79 L85.52,285.62 L86.93,284.58 L88.35,283.69 L89.76,282.94 L91.17,282.33 L92.58,281.88 L93.99,281.59 L95.41,281.45 L96.82,281.34 L98.23,281.29 L99.64,281.36 L101.05,281.56 L102.47,281.88 L103.88,282.32 L105.29,282.88 L106.70,283.54 L108.11,284.31 L109.53,285.18 L110.94,286.14 L112.35,287.19 L113.76,288.32 L115.17,289.52 L116.59,290.79 L118.00,292.12 L119.41,293.49 L120.82,294.92 L122.23,296.38 L123.65,297.87 L125.06,299.38 L126.47,300.91 L127.88,302.45 L129.29,304.00 L130.71,305.54 L132.12,307.08 L133.53,308.60 L134.94,310.11 L136.35,311.60 L137.77,313.07 L139.18,314.51 L140.59,315.91 L142.00,317.29 L143.41,318.63 L144.83,319.93 L146.24,321.19 L147.65,322.42 L149.06,323.60 L150.47,324.75 L151.89,325.86 L153.30,326.92 L154.71,327.95 L156.12,328.94 L157.53,329.89 L158.95,330.81 L160.36,331.69 L161.77,332.54 L163.18,333.35 L164.59,334.14 L166.01,334.90 L167.42,335.63 L168.83,336.33 L170.24,337.02 L171.65,337.68 L173.07,338.32 L174.48,338.94 L175.89,339.55 L177.30,340.14 L178.71,340.71 L180.13,341.28 L181.54,341.83 L182.95,342.37 L184.36,342.91 L185.77,343.44 L187.19,343.95 L188.60,344.47 L190.01,344.98 L191.42,345.48 L192.83,345.98 L194.25,346.47 L195.66,346.96 L197.07,347.45 L198.48,347.94 L199.89,348.42 L201.31,348.91 L202.72,349.39 L204.13,349.86 L205.54,350.34 L206.95,350.81 L208.37,351.29 L209.78,351.76 L211.19,352.22 L212.60,352.69 L214.01,353.15 L215.43,353.61 L216.84,354.07 L218.25,354.52 L219.66,354.97 L221.07,355.42 L222.49,355.86 L223.90,356.30 L225.31,356.74 L226.72,357.17 L228.13,357.59 L229.55,358.01 L230.96,358.43 L232.37,358.84 L233.78,359.24 L235.19,359.64 L236.61,360.04 L238.02,360.42 L239.43,360.80 L240.84,361.18 L242.25,361.55 L243.67,361.91 L245.08,362.26 L246.49,362.61 L247.90,362.95 L249.31,363.29 L250.73,363.61 L252.14,363.93 L253.55,364.25 L254.96,364.55 L256.37,364.85 L257.79,365.14 L259.20,365.42 L260.61,365.70 L262.02,365.97 L263.43,366.23" fill="none" stroke="#2a6a2a" stroke-width="2.0" stroke-linejoin="round" />
<path d="M67.17,302.61 L68.58,300.18 L69.99,297.79 L71.40,295.46 L72.81,293.19 L74.23,290.99 L75.64,288.88 L77.05,286.86 L78.46,284.94 L79.87,283.13 L81.29,281.45 L82.70,279.89 L84.11,278.46 L85.52,277.18 L86.93,276.04 L88.35,275.06 L89.76,274.24 L91.17,273.58 L92.58,273.09 L93.99,272.76 L95.41,272.61 L96.82,272.49 L98.23,272.43 L99.64,272.51 L101.05,272.73 L102.47,273.09 L103.88,273.57 L105.29,274.18 L106.70,274.91 L108.11,275.75 L109.53,276.70 L110.94,277.76 L112.35,278.91 L113.76,280.15 L115.17,281.46 L116.59,282.85 L118.00,284.31 L119.41,285.82 L120.82,287.38 L122.23,288.98 L123.65,290.61 L125.06,292.27 L126.47,293.95 L127.88,295.64 L129.29,297.34 L130.71,299.03 L132.12,300.72 L133.53,302.39 L134.94,304.05 L136.35,305.68 L137.77,307.29 L139.18,308.86 L140.59,310.41 L142.00,311.92 L143.41,313.38 L144.83,314.81 L146.24,316.20 L147.65,317.54 L149.06,318.84 L150.47,320.10 L151.89,321.31 L153.30,322.48 L154.71,323.61 L156.12,324.69 L157.53,325.74 L158.95,326.74 L160.36,327.71 L161.77,328.64 L163.18,329.54 L164.59,330.40 L166.01,331.23 L167.42,332.03 L168.83,332.80 L170.24,333.55 L171.65,334.28 L173.07,334.98 L174.48,335.66 L175.89,336.33 L177.30,336.98 L178.71,337.61 L180.13,338.23 L181.54,338.83 L182.95,339.43 L184.36,340.02 L185.77,340.59 L187.19,341.16 L188.60,341.73 L190.01,342.28 L191.42,342.83 L192.83,343.38 L194.25,343.92 L195.66,344.46 L197.07,345.00 L198.48,345.53 L199.89,346.07 L201.31,346.59 L202.72,347.12 L204.13,347.65 L205.54,348.17 L206.95,348.69 L208.37,349.20 L209.78,349.72 L211.19,350.23 L212.60,350.74 L214.01,351.25 L215.43,351.76 L216.84,352.26 L218.25,352.75 L219.66,353.25 L221.07,353.74 L222.49,354.22 L223.90,354.71 L225.31,355.18 L226.72,355.65 L228.13,356.12 L229.55,356.58 L230.96,357.04 L232.37,357.49 L233.78,357.93 L235.19,358.37 L236.61,358.80 L238.02,359.23 L239.43,359.64 L240.84,360.05 L242.25,360.46 L243.67,360.85 L245.08,361.24 L246.49,361.62 L247.90,362.00 L249.31,362.37 L250.73,362.72 L252.14,363.07 L253.55,363.42 L254.96,363.75 L256.37,364.08 L257.79,364.40 L259.20,364.71 L260.61,365.01 L262.02,365.31 L263.43,365.60" fill="none" stroke="#1a1a8a" stroke-width="2.0" stroke-linejoin="round" />
<path d="M67.17,288.84 L68.58,285.94 L69.99,283.08 L71.40,280.29 L72.81,277.58 L74.23,274.95 L75.64,272.42 L77.05,270.01 L78.46,267.71 L79.87,265.55 L81.29,263.53 L82.70,261.67 L84.11,259.96 L85.52,258.43 L86.93,257.07 L88.35,255.90 L89.76,254.91 L91.17,254.12 L92.58,253.53 L93.99,253.15 L95.41,252.96 L96.82,252.82 L98.23,252.75 L99.64,252.85 L101.05,253.11 L102.47,253.53 L103.88,254.11 L105.29,254.84 L106.70,255.71 L108.11,256.72 L109.53,257.86 L110.94,259.12 L112.35,260.50 L113.76,261.98 L115.17,263.55 L116.59,265.22 L118.00,266.96 L119.41,268.76 L120.82,270.63 L122.23,272.54 L123.65,274.50 L125.06,276.48 L126.47,278.49 L127.88,280.51 L129.29,282.54 L130.71,284.57 L132.12,286.58 L133.53,288.59 L134.94,290.57 L136.35,292.52 L137.77,294.44 L139.18,296.33 L140.59,298.17 L142.00,299.98 L143.41,301.73 L144.83,303.44 L146.24,305.10 L147.65,306.71 L149.06,308.26 L150.47,309.77 L151.89,311.22 L153.30,312.62 L154.71,313.96 L156.12,315.26 L157.53,316.51 L158.95,317.71 L160.36,318.87 L161.77,319.98 L163.18,321.05 L164.59,322.08 L166.01,323.08 L167.42,324.04 L168.83,324.96 L170.24,325.86 L171.65,326.73 L173.07,327.57 L174.48,328.38 L175.89,329.18 L177.30,329.95 L178.71,330.71 L180.13,331.45 L181.54,332.17 L182.95,332.89 L184.36,333.59 L185.77,334.28 L187.19,334.96 L188.60,335.63 L190.01,336.30 L191.42,336.96 L192.83,337.61 L194.25,338.26 L195.66,338.91 L197.07,339.55 L198.48,340.19 L199.89,340.82 L201.31,341.46 L202.72,342.09 L204.13,342.71 L205.54,343.34 L206.95,343.96 L208.37,344.58 L209.78,345.19 L211.19,345.81 L212.60,346.42 L214.01,347.03 L215.43,347.63 L216.84,348.23 L218.25,348.82 L219.66,349.41 L221.07,350.00 L222.49,350.58 L223.90,351.16 L225.31,351.73 L226.72,352.29 L228.13,352.85 L229.55,353.40 L230.96,353.95 L232.37,354.49 L233.78,355.02 L235.19,355.54 L236.61,356.06 L238.02,356.56 L239.43,357.06 L240.84,357.55 L242.25,358.04 L243.67,358.51 L245.08,358.98 L246.49,359.43 L247.90,359.88 L249.31,360.32 L250.73,360.75 L252.14,361.17 L253.55,361.58 L254.96,361.98 L256.37,362.37 L257.79,362.75 L259.20,363.12 L260.61,363.49 L262.02,363.84 L263.43,364.18" fill="none" stroke="#b85a2a" stroke-width="2.0" stroke-linejoin="round" />
</g>
<rect x="69.3" y="233.8" width="192.00" height="142.70" fill="none" stroke="#111" stroke-width="1.8"/>
<text x="271.80" y="227.00" font-size="20" text-anchor="start" fill="#1a1a1a" >(d)</text>
<line x1="343.00" y1="362.70" x2="347.00" y2="362.70" stroke="#111" stroke-width="1.5" />
<text x="340.50" y="368.30" font-size="15" text-anchor="end" fill="#1a1a1a" >50</text>
<line x1="343.00" y1="333.70" x2="347.00" y2="333.70" stroke="#111" stroke-width="1.5" />
<text x="340.50" y="339.30" font-size="15" text-anchor="end" fill="#1a1a1a" >100</text>
<line x1="343.00" y1="304.70" x2="347.00" y2="304.70" stroke="#111" stroke-width="1.5" />
<text x="340.50" y="310.30" font-size="15" text-anchor="end" fill="#1a1a1a" >150</text>
<line x1="343.00" y1="275.70" x2="347.00" y2="275.70" stroke="#111" stroke-width="1.5" />
<text x="340.50" y="281.30" font-size="15" text-anchor="end" fill="#1a1a1a" >200</text>
<line x1="343.00" y1="246.70" x2="347.00" y2="246.70" stroke="#111" stroke-width="1.5" />
<text x="340.50" y="252.30" font-size="15" text-anchor="end" fill="#1a1a1a" >250</text>
<line x1="347.00" y1="377.00" x2="347.00" y2="380.00" stroke="#111" stroke-width="1.5" />
<text x="347.00" y="395.10" font-size="15" text-anchor="middle" fill="#1a1a1a" >2</text>
<line x1="377.05" y1="377.00" x2="377.05" y2="380.00" stroke="#111" stroke-width="1.5" />
<text x="377.05" y="395.10" font-size="15" text-anchor="middle" fill="#1a1a1a" >3</text>
<line x1="407.10" y1="377.00" x2="407.10" y2="380.00" stroke="#111" stroke-width="1.5" />
<text x="407.10" y="395.10" font-size="15" text-anchor="middle" fill="#1a1a1a" >4</text>
<line x1="437.15" y1="377.00" x2="437.15" y2="380.00" stroke="#111" stroke-width="1.5" />
<text x="437.15" y="395.10" font-size="15" text-anchor="middle" fill="#1a1a1a" >5</text>
<line x1="467.20" y1="377.00" x2="467.20" y2="380.00" stroke="#111" stroke-width="1.5" />
<text x="467.20" y="395.10" font-size="15" text-anchor="middle" fill="#1a1a1a" >6</text>
<line x1="497.25" y1="377.00" x2="497.25" y2="380.00" stroke="#111" stroke-width="1.5" />
<text x="497.25" y="395.10" font-size="15" text-anchor="middle" fill="#1a1a1a" >7</text>
<line x1="527.30" y1="377.00" x2="527.30" y2="380.00" stroke="#111" stroke-width="1.5" />
<text x="527.30" y="395.10" font-size="15" text-anchor="middle" fill="#1a1a1a" >8</text>
<text x="446.60" y="413.90" font-size="18.0" text-anchor="middle" fill="#1a1a1a" >Log Concentration (fM)</text>
<text transform="translate(302.6,373.4) rotate(-90)" font-size="18.0" fill="#1a1a1a">FL Intensity (a.u.)</text>
<text x="360.2" y="252.9" font-size="15" fill="#1a1a1a" textLength="144" lengthAdjust="spacing"><tspan font-style="italic">y</tspan> = 34.463<tspan font-style="italic">x</tspan> – 31.268</text>
<text x="360.9" y="271.9" font-size="15" fill="#1a1a1a"><tspan font-style="italic">R</tspan><tspan font-size="10" dy="-5">2</tspan><tspan dy="5"> = 0.996</tspan></text>
<line x1="367.80" y1="358.70" x2="527.30" y2="259.60" stroke="#ffc0e8" stroke-width="8" opacity="0.35"/>
<line x1="367.80" y1="358.70" x2="527.30" y2="259.60" stroke="#b04a20" stroke-width="2.0" />
<circle cx="367.8" cy="358.7" r="2.1" fill="#1a1a1a"/>
<line x1="377.30" y1="350.40" x2="377.30" y2="352.80" stroke="#1a1a1a" stroke-width="1.8" />
<line x1="374.90" y1="350.40" x2="379.70" y2="350.40" stroke="#1a1a1a" stroke-width="1.8" />
<line x1="374.90" y1="352.80" x2="379.70" y2="352.80" stroke="#1a1a1a" stroke-width="1.8" />
<circle cx="377.3" cy="351.6" r="2.1" fill="#1a1a1a"/>
<line x1="406.90" y1="335.40" x2="406.90" y2="338.40" stroke="#1a1a1a" stroke-width="1.8" />
<line x1="404.50" y1="335.40" x2="409.30" y2="335.40" stroke="#1a1a1a" stroke-width="1.8" />
<line x1="404.50" y1="338.40" x2="409.30" y2="338.40" stroke="#1a1a1a" stroke-width="1.8" />
<circle cx="406.9" cy="336.9" r="2.1" fill="#1a1a1a"/>
<circle cx="437.3" cy="316.0" r="2.1" fill="#1a1a1a"/>
<line x1="467.40" y1="288.60" x2="467.40" y2="302.20" stroke="#1a1a1a" stroke-width="1.8" />
<line x1="465.00" y1="288.60" x2="469.80" y2="288.60" stroke="#1a1a1a" stroke-width="1.8" />
<line x1="465.00" y1="302.20" x2="469.80" y2="302.20" stroke="#1a1a1a" stroke-width="1.8" />
<circle cx="467.4" cy="295.4" r="2.1" fill="#1a1a1a"/>
<line x1="497.10" y1="267.80" x2="497.10" y2="276.40" stroke="#1a1a1a" stroke-width="1.8" />
<line x1="494.70" y1="267.80" x2="499.50" y2="267.80" stroke="#1a1a1a" stroke-width="1.8" />
<line x1="494.70" y1="276.40" x2="499.50" y2="276.40" stroke="#1a1a1a" stroke-width="1.8" />
<circle cx="497.1" cy="272.1" r="2.1" fill="#1a1a1a"/>
<line x1="527.30" y1="246.40" x2="527.30" y2="260.00" stroke="#1a1a1a" stroke-width="1.8" />
<line x1="524.90" y1="246.40" x2="529.70" y2="246.40" stroke="#1a1a1a" stroke-width="1.8" />
<line x1="524.90" y1="260.00" x2="529.70" y2="260.00" stroke="#1a1a1a" stroke-width="1.8" />
<circle cx="527.3" cy="253.2" r="2.1" fill="#1a1a1a"/>
<rect x="347.0" y="232.9" width="195.00" height="144.10" fill="none" stroke="#111" stroke-width="1.8"/>
</svg></body></html>
